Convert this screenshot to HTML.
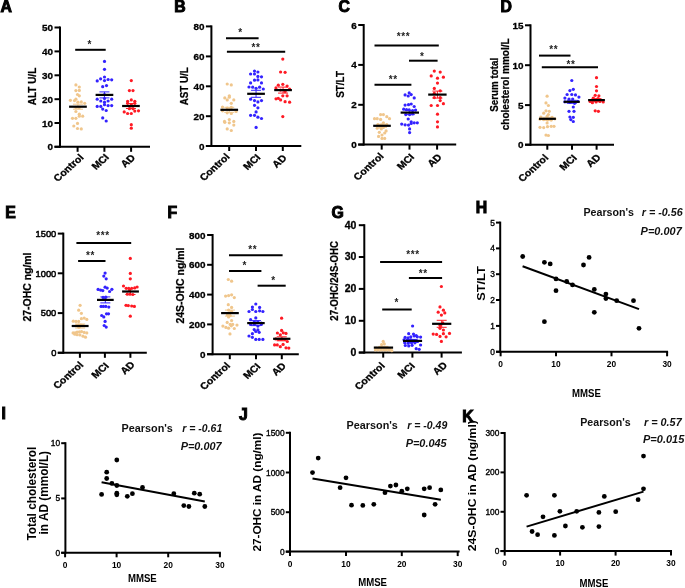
<!DOCTYPE html>
<html><head><meta charset="utf-8"><style>
html,body{margin:0;padding:0;background:#fff;}
svg{display:block;will-change:transform;}
text{font-family:"Liberation Sans", sans-serif;-webkit-font-smoothing:antialiased;}
</style></head><body>
<svg width="685" height="588" viewBox="0 0 685 588">
<rect width="685" height="588" fill="#fff"/>
<line x1="60.00" y1="26.50" x2="60.00" y2="147.80" stroke="#000" stroke-width="2" stroke-linecap="butt"/>
<line x1="54.50" y1="146.80" x2="150.00" y2="146.80" stroke="#000" stroke-width="2" stroke-linecap="butt"/>
<line x1="54.50" y1="27.50" x2="60.00" y2="27.50" stroke="#000" stroke-width="2" stroke-linecap="butt"/>
<text x="53.00" y="31.00" font-size="9.9" font-weight="bold" text-anchor="end" fill="#000" stroke="#000" stroke-width="0.3">50</text>
<line x1="54.50" y1="51.40" x2="60.00" y2="51.40" stroke="#000" stroke-width="2" stroke-linecap="butt"/>
<text x="53.00" y="54.90" font-size="9.9" font-weight="bold" text-anchor="end" fill="#000" stroke="#000" stroke-width="0.3">40</text>
<line x1="54.50" y1="75.30" x2="60.00" y2="75.30" stroke="#000" stroke-width="2" stroke-linecap="butt"/>
<text x="53.00" y="78.80" font-size="9.9" font-weight="bold" text-anchor="end" fill="#000" stroke="#000" stroke-width="0.3">30</text>
<line x1="54.50" y1="99.20" x2="60.00" y2="99.20" stroke="#000" stroke-width="2" stroke-linecap="butt"/>
<text x="53.00" y="102.70" font-size="9.9" font-weight="bold" text-anchor="end" fill="#000" stroke="#000" stroke-width="0.3">20</text>
<line x1="54.50" y1="123.00" x2="60.00" y2="123.00" stroke="#000" stroke-width="2" stroke-linecap="butt"/>
<text x="53.00" y="126.50" font-size="9.9" font-weight="bold" text-anchor="end" fill="#000" stroke="#000" stroke-width="0.3">10</text>
<line x1="54.50" y1="146.80" x2="60.00" y2="146.80" stroke="#000" stroke-width="2" stroke-linecap="butt"/>
<text x="53.00" y="150.30" font-size="9.9" font-weight="bold" text-anchor="end" fill="#000" stroke="#000" stroke-width="0.3">0</text>
<line x1="77.60" y1="146.80" x2="77.60" y2="151.80" stroke="#000" stroke-width="2" stroke-linecap="butt"/>
<line x1="104.40" y1="146.80" x2="104.40" y2="151.80" stroke="#000" stroke-width="2" stroke-linecap="butt"/>
<line x1="131.10" y1="146.80" x2="131.10" y2="151.80" stroke="#000" stroke-width="2" stroke-linecap="butt"/>
<text x="0" y="0" font-size="9.6" font-weight="bold" text-anchor="end" stroke="#000" stroke-width="0.3" transform="translate(84.30 158.10) scale(1.1 1) rotate(-45)">Control</text>
<text x="0" y="0" font-size="9.6" font-weight="bold" text-anchor="end" stroke="#000" stroke-width="0.3" transform="translate(109.60 157.90) scale(1.1 1) rotate(-45)">MCI</text>
<text x="0" y="0" font-size="9.6" font-weight="bold" text-anchor="end" stroke="#000" stroke-width="0.3" transform="translate(135.90 158.30) scale(1.1 1) rotate(-45)">AD</text>
<circle cx="75.90" cy="84.90" r="1.6" fill="#F0C68C"/>
<circle cx="79.30" cy="87.00" r="1.6" fill="#F0C68C"/>
<circle cx="75.90" cy="90.60" r="1.6" fill="#F0C68C"/>
<circle cx="79.30" cy="90.40" r="1.6" fill="#F0C68C"/>
<circle cx="77.50" cy="94.50" r="1.6" fill="#F0C68C"/>
<circle cx="79.30" cy="95.80" r="1.6" fill="#F0C68C"/>
<circle cx="70.40" cy="100.30" r="1.6" fill="#F0C68C"/>
<circle cx="74.50" cy="100.60" r="1.6" fill="#F0C68C"/>
<circle cx="75.90" cy="99.20" r="1.6" fill="#F0C68C"/>
<circle cx="77.90" cy="102.20" r="1.6" fill="#F0C68C"/>
<circle cx="81.30" cy="101.90" r="1.6" fill="#F0C68C"/>
<circle cx="84.70" cy="103.30" r="1.6" fill="#F0C68C"/>
<circle cx="75.90" cy="107.40" r="1.6" fill="#F0C68C"/>
<circle cx="79.30" cy="107.40" r="1.6" fill="#F0C68C"/>
<circle cx="75.90" cy="111.50" r="1.6" fill="#F0C68C"/>
<circle cx="79.30" cy="114.20" r="1.6" fill="#F0C68C"/>
<circle cx="79.30" cy="116.20" r="1.6" fill="#F0C68C"/>
<circle cx="82.70" cy="116.20" r="1.6" fill="#F0C68C"/>
<circle cx="72.50" cy="118.30" r="1.6" fill="#F0C68C"/>
<circle cx="75.90" cy="118.30" r="1.6" fill="#F0C68C"/>
<circle cx="77.50" cy="123.40" r="1.6" fill="#F0C68C"/>
<circle cx="73.80" cy="126.00" r="1.6" fill="#F0C68C"/>
<circle cx="77.50" cy="128.50" r="1.6" fill="#F0C68C"/>
<circle cx="81.30" cy="128.90" r="1.6" fill="#F0C68C"/>
<circle cx="104.50" cy="61.40" r="1.6" fill="#3322FF"/>
<circle cx="104.50" cy="69.30" r="1.6" fill="#3322FF"/>
<circle cx="104.50" cy="77.00" r="1.6" fill="#3322FF"/>
<circle cx="100.60" cy="78.80" r="1.6" fill="#3322FF"/>
<circle cx="97.20" cy="80.90" r="1.6" fill="#3322FF"/>
<circle cx="104.50" cy="80.60" r="1.6" fill="#3322FF"/>
<circle cx="108.10" cy="79.50" r="1.6" fill="#3322FF"/>
<circle cx="111.70" cy="79.80" r="1.6" fill="#3322FF"/>
<circle cx="102.70" cy="86.70" r="1.6" fill="#3322FF"/>
<circle cx="106.50" cy="85.60" r="1.6" fill="#3322FF"/>
<circle cx="104.50" cy="94.50" r="1.6" fill="#3322FF"/>
<circle cx="97.20" cy="99.20" r="1.6" fill="#3322FF"/>
<circle cx="100.80" cy="101.00" r="1.6" fill="#3322FF"/>
<circle cx="104.50" cy="98.50" r="1.6" fill="#3322FF"/>
<circle cx="108.10" cy="101.00" r="1.6" fill="#3322FF"/>
<circle cx="111.70" cy="99.20" r="1.6" fill="#3322FF"/>
<circle cx="104.50" cy="102.20" r="1.6" fill="#3322FF"/>
<circle cx="104.50" cy="104.70" r="1.6" fill="#3322FF"/>
<circle cx="97.20" cy="106.40" r="1.6" fill="#3322FF"/>
<circle cx="100.80" cy="106.40" r="1.6" fill="#3322FF"/>
<circle cx="108.10" cy="105.60" r="1.6" fill="#3322FF"/>
<circle cx="111.70" cy="105.60" r="1.6" fill="#3322FF"/>
<circle cx="102.70" cy="109.10" r="1.6" fill="#3322FF"/>
<circle cx="106.20" cy="110.50" r="1.6" fill="#3322FF"/>
<circle cx="102.70" cy="117.90" r="1.6" fill="#3322FF"/>
<circle cx="106.20" cy="121.00" r="1.6" fill="#3322FF"/>
<circle cx="131.30" cy="80.60" r="1.6" fill="#FF1A24"/>
<circle cx="129.40" cy="90.60" r="1.6" fill="#FF1A24"/>
<circle cx="133.00" cy="90.60" r="1.6" fill="#FF1A24"/>
<circle cx="131.30" cy="99.90" r="1.6" fill="#FF1A24"/>
<circle cx="127.60" cy="101.30" r="1.6" fill="#FF1A24"/>
<circle cx="134.80" cy="101.30" r="1.6" fill="#FF1A24"/>
<circle cx="127.60" cy="103.30" r="1.6" fill="#FF1A24"/>
<circle cx="134.80" cy="103.30" r="1.6" fill="#FF1A24"/>
<circle cx="131.30" cy="104.70" r="1.6" fill="#FF1A24"/>
<circle cx="129.40" cy="108.70" r="1.6" fill="#FF1A24"/>
<circle cx="133.00" cy="108.70" r="1.6" fill="#FF1A24"/>
<circle cx="124.20" cy="111.90" r="1.6" fill="#FF1A24"/>
<circle cx="127.60" cy="113.50" r="1.6" fill="#FF1A24"/>
<circle cx="131.30" cy="113.50" r="1.6" fill="#FF1A24"/>
<circle cx="134.80" cy="111.10" r="1.6" fill="#FF1A24"/>
<circle cx="138.50" cy="110.80" r="1.6" fill="#FF1A24"/>
<circle cx="131.30" cy="124.70" r="1.6" fill="#FF1A24"/>
<circle cx="131.30" cy="128.20" r="1.6" fill="#FF1A24"/>
<line x1="77.95" y1="104.20" x2="77.95" y2="109.20" stroke="#F0C68C" stroke-width="1" stroke-linecap="butt"/>
<line x1="72.95" y1="104.20" x2="82.95" y2="104.20" stroke="#F0C68C" stroke-width="1" stroke-linecap="butt"/>
<line x1="72.95" y1="109.20" x2="82.95" y2="109.20" stroke="#F0C68C" stroke-width="1" stroke-linecap="butt"/>
<line x1="69.10" y1="106.70" x2="86.80" y2="106.70" stroke="#000" stroke-width="2.2" stroke-linecap="butt"/>
<line x1="104.45" y1="91.90" x2="104.45" y2="97.90" stroke="#3322FF" stroke-width="1" stroke-linecap="butt"/>
<line x1="99.45" y1="91.90" x2="109.45" y2="91.90" stroke="#3322FF" stroke-width="1" stroke-linecap="butt"/>
<line x1="99.45" y1="97.90" x2="109.45" y2="97.90" stroke="#3322FF" stroke-width="1" stroke-linecap="butt"/>
<line x1="95.60" y1="94.90" x2="113.30" y2="94.90" stroke="#000" stroke-width="2.2" stroke-linecap="butt"/>
<line x1="130.95" y1="103.50" x2="130.95" y2="108.50" stroke="#FF1A24" stroke-width="1" stroke-linecap="butt"/>
<line x1="125.95" y1="103.50" x2="135.95" y2="103.50" stroke="#FF1A24" stroke-width="1" stroke-linecap="butt"/>
<line x1="125.95" y1="108.50" x2="135.95" y2="108.50" stroke="#FF1A24" stroke-width="1" stroke-linecap="butt"/>
<line x1="122.10" y1="106.00" x2="139.80" y2="106.00" stroke="#000" stroke-width="2.2" stroke-linecap="butt"/>
<line x1="75.20" y1="49.80" x2="105.70" y2="49.80" stroke="#000" stroke-width="2" stroke-linecap="butt"/>
<text x="89.80" y="47.50" font-size="10" font-weight="bold" text-anchor="middle" fill="#222" letter-spacing="0.6">*</text>
<text x="36.00" y="86.50" font-size="10" font-weight="bold" text-anchor="middle" fill="#000" textLength="37.5" lengthAdjust="spacingAndGlyphs" transform="rotate(-90 36.00 86.50)" stroke="#000" stroke-width="0.25">ALT U/L</text>
<line x1="211.40" y1="25.40" x2="211.40" y2="147.00" stroke="#000" stroke-width="2" stroke-linecap="butt"/>
<line x1="205.90" y1="146.00" x2="301.30" y2="146.00" stroke="#000" stroke-width="2" stroke-linecap="butt"/>
<line x1="205.90" y1="26.40" x2="211.40" y2="26.40" stroke="#000" stroke-width="2" stroke-linecap="butt"/>
<text x="204.40" y="29.90" font-size="9.9" font-weight="bold" text-anchor="end" fill="#000" stroke="#000" stroke-width="0.3">80</text>
<line x1="205.90" y1="56.40" x2="211.40" y2="56.40" stroke="#000" stroke-width="2" stroke-linecap="butt"/>
<text x="204.40" y="59.90" font-size="9.9" font-weight="bold" text-anchor="end" fill="#000" stroke="#000" stroke-width="0.3">60</text>
<line x1="205.90" y1="86.30" x2="211.40" y2="86.30" stroke="#000" stroke-width="2" stroke-linecap="butt"/>
<text x="204.40" y="89.80" font-size="9.9" font-weight="bold" text-anchor="end" fill="#000" stroke="#000" stroke-width="0.3">40</text>
<line x1="205.90" y1="116.20" x2="211.40" y2="116.20" stroke="#000" stroke-width="2" stroke-linecap="butt"/>
<text x="204.40" y="119.70" font-size="9.9" font-weight="bold" text-anchor="end" fill="#000" stroke="#000" stroke-width="0.3">20</text>
<line x1="205.90" y1="146.00" x2="211.40" y2="146.00" stroke="#000" stroke-width="2" stroke-linecap="butt"/>
<text x="204.40" y="149.50" font-size="9.9" font-weight="bold" text-anchor="end" fill="#000" stroke="#000" stroke-width="0.3">0</text>
<line x1="229.20" y1="146.00" x2="229.20" y2="151.00" stroke="#000" stroke-width="2" stroke-linecap="butt"/>
<line x1="256.00" y1="146.00" x2="256.00" y2="151.00" stroke="#000" stroke-width="2" stroke-linecap="butt"/>
<line x1="282.80" y1="146.00" x2="282.80" y2="151.00" stroke="#000" stroke-width="2" stroke-linecap="butt"/>
<text x="0" y="0" font-size="9.6" font-weight="bold" text-anchor="end" stroke="#000" stroke-width="0.3" transform="translate(230.40 157.40) scale(1.1 1) rotate(-45)">Control</text>
<text x="0" y="0" font-size="9.6" font-weight="bold" text-anchor="end" stroke="#000" stroke-width="0.3" transform="translate(261.20 158.00) scale(1.1 1) rotate(-45)">MCI</text>
<text x="0" y="0" font-size="9.6" font-weight="bold" text-anchor="end" stroke="#000" stroke-width="0.3" transform="translate(287.30 158.70) scale(1.1 1) rotate(-45)">AD</text>
<circle cx="227.20" cy="84.00" r="1.6" fill="#F0C68C"/>
<circle cx="231.30" cy="84.90" r="1.6" fill="#F0C68C"/>
<circle cx="229.30" cy="95.80" r="1.6" fill="#F0C68C"/>
<circle cx="224.80" cy="97.90" r="1.6" fill="#F0C68C"/>
<circle cx="229.30" cy="97.20" r="1.6" fill="#F0C68C"/>
<circle cx="227.20" cy="99.90" r="1.6" fill="#F0C68C"/>
<circle cx="233.80" cy="99.90" r="1.6" fill="#F0C68C"/>
<circle cx="231.30" cy="103.30" r="1.6" fill="#F0C68C"/>
<circle cx="222.50" cy="107.10" r="1.6" fill="#F0C68C"/>
<circle cx="227.20" cy="108.10" r="1.6" fill="#F0C68C"/>
<circle cx="231.30" cy="107.40" r="1.6" fill="#F0C68C"/>
<circle cx="222.50" cy="110.80" r="1.6" fill="#F0C68C"/>
<circle cx="236.10" cy="111.50" r="1.6" fill="#F0C68C"/>
<circle cx="227.20" cy="112.80" r="1.6" fill="#F0C68C"/>
<circle cx="231.30" cy="113.50" r="1.6" fill="#F0C68C"/>
<circle cx="229.30" cy="119.60" r="1.6" fill="#F0C68C"/>
<circle cx="224.50" cy="121.40" r="1.6" fill="#F0C68C"/>
<circle cx="229.30" cy="122.80" r="1.6" fill="#F0C68C"/>
<circle cx="233.80" cy="121.40" r="1.6" fill="#F0C68C"/>
<circle cx="224.80" cy="122.30" r="1.6" fill="#F0C68C"/>
<circle cx="233.80" cy="125.10" r="1.6" fill="#F0C68C"/>
<circle cx="227.20" cy="128.90" r="1.6" fill="#F0C68C"/>
<circle cx="231.30" cy="130.50" r="1.6" fill="#F0C68C"/>
<circle cx="254.50" cy="71.10" r="1.6" fill="#3322FF"/>
<circle cx="257.90" cy="72.00" r="1.6" fill="#3322FF"/>
<circle cx="250.60" cy="74.00" r="1.6" fill="#3322FF"/>
<circle cx="254.50" cy="74.00" r="1.6" fill="#3322FF"/>
<circle cx="257.90" cy="76.40" r="1.6" fill="#3322FF"/>
<circle cx="261.50" cy="76.80" r="1.6" fill="#3322FF"/>
<circle cx="254.50" cy="80.20" r="1.6" fill="#3322FF"/>
<circle cx="257.90" cy="79.90" r="1.6" fill="#3322FF"/>
<circle cx="250.60" cy="82.90" r="1.6" fill="#3322FF"/>
<circle cx="261.50" cy="82.90" r="1.6" fill="#3322FF"/>
<circle cx="249.00" cy="87.00" r="1.6" fill="#3322FF"/>
<circle cx="252.70" cy="87.20" r="1.6" fill="#3322FF"/>
<circle cx="256.10" cy="88.30" r="1.6" fill="#3322FF"/>
<circle cx="259.60" cy="87.20" r="1.6" fill="#3322FF"/>
<circle cx="263.30" cy="89.00" r="1.6" fill="#3322FF"/>
<circle cx="250.60" cy="99.20" r="1.6" fill="#3322FF"/>
<circle cx="254.50" cy="100.60" r="1.6" fill="#3322FF"/>
<circle cx="257.90" cy="101.90" r="1.6" fill="#3322FF"/>
<circle cx="261.50" cy="100.60" r="1.6" fill="#3322FF"/>
<circle cx="254.50" cy="105.30" r="1.6" fill="#3322FF"/>
<circle cx="257.90" cy="107.80" r="1.6" fill="#3322FF"/>
<circle cx="256.10" cy="111.90" r="1.6" fill="#3322FF"/>
<circle cx="250.60" cy="115.30" r="1.6" fill="#3322FF"/>
<circle cx="254.50" cy="115.30" r="1.6" fill="#3322FF"/>
<circle cx="257.90" cy="117.20" r="1.6" fill="#3322FF"/>
<circle cx="261.50" cy="118.50" r="1.6" fill="#3322FF"/>
<circle cx="256.10" cy="127.40" r="1.6" fill="#3322FF"/>
<circle cx="282.80" cy="59.10" r="1.6" fill="#FF1A24"/>
<circle cx="280.60" cy="72.00" r="1.6" fill="#FF1A24"/>
<circle cx="285.10" cy="72.30" r="1.6" fill="#FF1A24"/>
<circle cx="278.30" cy="85.20" r="1.6" fill="#FF1A24"/>
<circle cx="282.80" cy="84.30" r="1.6" fill="#FF1A24"/>
<circle cx="287.10" cy="86.00" r="1.6" fill="#FF1A24"/>
<circle cx="276.00" cy="87.90" r="1.6" fill="#FF1A24"/>
<circle cx="289.60" cy="89.00" r="1.6" fill="#FF1A24"/>
<circle cx="280.60" cy="90.10" r="1.6" fill="#FF1A24"/>
<circle cx="285.10" cy="91.50" r="1.6" fill="#FF1A24"/>
<circle cx="282.80" cy="95.80" r="1.6" fill="#FF1A24"/>
<circle cx="287.10" cy="95.80" r="1.6" fill="#FF1A24"/>
<circle cx="276.00" cy="98.80" r="1.6" fill="#FF1A24"/>
<circle cx="278.30" cy="98.30" r="1.6" fill="#FF1A24"/>
<circle cx="280.60" cy="99.90" r="1.6" fill="#FF1A24"/>
<circle cx="285.10" cy="101.70" r="1.6" fill="#FF1A24"/>
<circle cx="289.60" cy="102.20" r="1.6" fill="#FF1A24"/>
<circle cx="282.80" cy="116.60" r="1.6" fill="#FF1A24"/>
<line x1="229.25" y1="107.30" x2="229.25" y2="112.30" stroke="#F0C68C" stroke-width="1" stroke-linecap="butt"/>
<line x1="224.25" y1="107.30" x2="234.25" y2="107.30" stroke="#F0C68C" stroke-width="1" stroke-linecap="butt"/>
<line x1="224.25" y1="112.30" x2="234.25" y2="112.30" stroke="#F0C68C" stroke-width="1" stroke-linecap="butt"/>
<line x1="220.40" y1="109.80" x2="238.10" y2="109.80" stroke="#000" stroke-width="2.2" stroke-linecap="butt"/>
<line x1="256.05" y1="90.30" x2="256.05" y2="97.30" stroke="#3322FF" stroke-width="1" stroke-linecap="butt"/>
<line x1="251.05" y1="90.30" x2="261.05" y2="90.30" stroke="#3322FF" stroke-width="1" stroke-linecap="butt"/>
<line x1="251.05" y1="97.30" x2="261.05" y2="97.30" stroke="#3322FF" stroke-width="1" stroke-linecap="butt"/>
<line x1="247.20" y1="93.80" x2="264.90" y2="93.80" stroke="#000" stroke-width="2.2" stroke-linecap="butt"/>
<line x1="283.05" y1="87.10" x2="283.05" y2="93.10" stroke="#FF1A24" stroke-width="1" stroke-linecap="butt"/>
<line x1="278.05" y1="87.10" x2="288.05" y2="87.10" stroke="#FF1A24" stroke-width="1" stroke-linecap="butt"/>
<line x1="278.05" y1="93.10" x2="288.05" y2="93.10" stroke="#FF1A24" stroke-width="1" stroke-linecap="butt"/>
<line x1="274.20" y1="90.10" x2="291.90" y2="90.10" stroke="#000" stroke-width="2.2" stroke-linecap="butt"/>
<line x1="226.00" y1="38.30" x2="258.60" y2="38.30" stroke="#000" stroke-width="2" stroke-linecap="butt"/>
<text x="240.50" y="35.50" font-size="10" font-weight="bold" text-anchor="middle" fill="#222" letter-spacing="0.6">*</text>
<line x1="226.90" y1="51.70" x2="285.20" y2="51.70" stroke="#000" stroke-width="2" stroke-linecap="butt"/>
<text x="256.00" y="50.70" font-size="10" font-weight="bold" text-anchor="middle" fill="#222" letter-spacing="0.6">**</text>
<text x="188.00" y="86.20" font-size="10" font-weight="bold" text-anchor="middle" fill="#000" textLength="38" lengthAdjust="spacingAndGlyphs" transform="rotate(-90 188.00 86.20)" stroke="#000" stroke-width="0.25">AST U/L</text>
<line x1="363.70" y1="24.00" x2="363.70" y2="145.60" stroke="#000" stroke-width="2" stroke-linecap="butt"/>
<line x1="358.20" y1="144.60" x2="456.20" y2="144.60" stroke="#000" stroke-width="2" stroke-linecap="butt"/>
<line x1="358.20" y1="25.00" x2="363.70" y2="25.00" stroke="#000" stroke-width="2" stroke-linecap="butt"/>
<text x="356.70" y="28.50" font-size="9.9" font-weight="bold" text-anchor="end" fill="#000" stroke="#000" stroke-width="0.3">6</text>
<line x1="358.20" y1="64.90" x2="363.70" y2="64.90" stroke="#000" stroke-width="2" stroke-linecap="butt"/>
<text x="356.70" y="68.40" font-size="9.9" font-weight="bold" text-anchor="end" fill="#000" stroke="#000" stroke-width="0.3">4</text>
<line x1="358.20" y1="104.80" x2="363.70" y2="104.80" stroke="#000" stroke-width="2" stroke-linecap="butt"/>
<text x="356.70" y="108.30" font-size="9.9" font-weight="bold" text-anchor="end" fill="#000" stroke="#000" stroke-width="0.3">2</text>
<line x1="358.20" y1="144.60" x2="363.70" y2="144.60" stroke="#000" stroke-width="2" stroke-linecap="butt"/>
<text x="356.70" y="148.10" font-size="9.9" font-weight="bold" text-anchor="end" fill="#000" stroke="#000" stroke-width="0.3">0</text>
<line x1="381.70" y1="144.60" x2="381.70" y2="149.60" stroke="#000" stroke-width="2" stroke-linecap="butt"/>
<line x1="409.50" y1="144.60" x2="409.50" y2="149.60" stroke="#000" stroke-width="2" stroke-linecap="butt"/>
<line x1="437.10" y1="144.60" x2="437.10" y2="149.60" stroke="#000" stroke-width="2" stroke-linecap="butt"/>
<text x="0" y="0" font-size="9.6" font-weight="bold" text-anchor="end" stroke="#000" stroke-width="0.3" transform="translate(384.30 156.80) scale(1.1 1) rotate(-45)">Control</text>
<text x="0" y="0" font-size="9.6" font-weight="bold" text-anchor="end" stroke="#000" stroke-width="0.3" transform="translate(414.90 157.70) scale(1.1 1) rotate(-45)">MCI</text>
<text x="0" y="0" font-size="9.6" font-weight="bold" text-anchor="end" stroke="#000" stroke-width="0.3" transform="translate(442.50 157.80) scale(1.1 1) rotate(-45)">AD</text>
<circle cx="380.60" cy="114.60" r="1.6" fill="#F0C68C"/>
<circle cx="383.40" cy="114.60" r="1.6" fill="#F0C68C"/>
<circle cx="386.80" cy="116.70" r="1.6" fill="#F0C68C"/>
<circle cx="374.50" cy="118.70" r="1.6" fill="#F0C68C"/>
<circle cx="377.20" cy="118.70" r="1.6" fill="#F0C68C"/>
<circle cx="380.60" cy="119.40" r="1.6" fill="#F0C68C"/>
<circle cx="389.50" cy="118.70" r="1.6" fill="#F0C68C"/>
<circle cx="383.40" cy="122.80" r="1.6" fill="#F0C68C"/>
<circle cx="377.90" cy="124.50" r="1.6" fill="#F0C68C"/>
<circle cx="381.30" cy="124.80" r="1.6" fill="#F0C68C"/>
<circle cx="386.80" cy="124.50" r="1.6" fill="#F0C68C"/>
<circle cx="377.20" cy="128.20" r="1.6" fill="#F0C68C"/>
<circle cx="380.60" cy="127.50" r="1.6" fill="#F0C68C"/>
<circle cx="383.40" cy="127.50" r="1.6" fill="#F0C68C"/>
<circle cx="381.30" cy="128.90" r="1.6" fill="#F0C68C"/>
<circle cx="386.10" cy="130.90" r="1.6" fill="#F0C68C"/>
<circle cx="379.30" cy="132.30" r="1.6" fill="#F0C68C"/>
<circle cx="384.70" cy="133.00" r="1.6" fill="#F0C68C"/>
<circle cx="382.00" cy="135.00" r="1.6" fill="#F0C68C"/>
<circle cx="378.60" cy="136.40" r="1.6" fill="#F0C68C"/>
<circle cx="382.00" cy="138.40" r="1.6" fill="#F0C68C"/>
<circle cx="384.70" cy="138.40" r="1.6" fill="#F0C68C"/>
<circle cx="409.20" cy="92.90" r="1.6" fill="#3322FF"/>
<circle cx="405.10" cy="94.90" r="1.6" fill="#3322FF"/>
<circle cx="408.20" cy="96.00" r="1.6" fill="#3322FF"/>
<circle cx="411.20" cy="94.60" r="1.6" fill="#3322FF"/>
<circle cx="414.20" cy="97.90" r="1.6" fill="#3322FF"/>
<circle cx="405.10" cy="105.10" r="1.6" fill="#3322FF"/>
<circle cx="408.50" cy="104.70" r="1.6" fill="#3322FF"/>
<circle cx="411.20" cy="104.00" r="1.6" fill="#3322FF"/>
<circle cx="414.20" cy="106.50" r="1.6" fill="#3322FF"/>
<circle cx="403.70" cy="109.20" r="1.6" fill="#3322FF"/>
<circle cx="406.50" cy="109.60" r="1.6" fill="#3322FF"/>
<circle cx="409.20" cy="109.90" r="1.6" fill="#3322FF"/>
<circle cx="412.60" cy="110.50" r="1.6" fill="#3322FF"/>
<circle cx="415.60" cy="110.10" r="1.6" fill="#3322FF"/>
<circle cx="405.80" cy="114.60" r="1.6" fill="#3322FF"/>
<circle cx="409.60" cy="114.60" r="1.6" fill="#3322FF"/>
<circle cx="412.60" cy="113.90" r="1.6" fill="#3322FF"/>
<circle cx="408.20" cy="119.00" r="1.6" fill="#3322FF"/>
<circle cx="411.20" cy="121.80" r="1.6" fill="#3322FF"/>
<circle cx="414.20" cy="122.80" r="1.6" fill="#3322FF"/>
<circle cx="417.30" cy="122.80" r="1.6" fill="#3322FF"/>
<circle cx="401.70" cy="124.10" r="1.6" fill="#3322FF"/>
<circle cx="405.10" cy="124.80" r="1.6" fill="#3322FF"/>
<circle cx="408.50" cy="125.10" r="1.6" fill="#3322FF"/>
<circle cx="411.20" cy="123.50" r="1.6" fill="#3322FF"/>
<circle cx="409.60" cy="128.90" r="1.6" fill="#3322FF"/>
<circle cx="409.60" cy="132.60" r="1.6" fill="#3322FF"/>
<circle cx="434.30" cy="71.10" r="1.6" fill="#FF1A24"/>
<circle cx="440.20" cy="72.10" r="1.6" fill="#FF1A24"/>
<circle cx="431.20" cy="75.90" r="1.6" fill="#FF1A24"/>
<circle cx="437.50" cy="78.20" r="1.6" fill="#FF1A24"/>
<circle cx="443.40" cy="77.20" r="1.6" fill="#FF1A24"/>
<circle cx="437.50" cy="83.10" r="1.6" fill="#FF1A24"/>
<circle cx="434.30" cy="88.40" r="1.6" fill="#FF1A24"/>
<circle cx="440.20" cy="90.80" r="1.6" fill="#FF1A24"/>
<circle cx="434.30" cy="93.30" r="1.6" fill="#FF1A24"/>
<circle cx="434.30" cy="97.60" r="1.6" fill="#FF1A24"/>
<circle cx="440.20" cy="97.60" r="1.6" fill="#FF1A24"/>
<circle cx="440.20" cy="100.60" r="1.6" fill="#FF1A24"/>
<circle cx="443.40" cy="103.70" r="1.6" fill="#FF1A24"/>
<circle cx="431.20" cy="105.50" r="1.6" fill="#FF1A24"/>
<circle cx="437.50" cy="105.50" r="1.6" fill="#FF1A24"/>
<circle cx="437.50" cy="114.20" r="1.6" fill="#FF1A24"/>
<circle cx="437.50" cy="121.80" r="1.6" fill="#FF1A24"/>
<circle cx="437.50" cy="126.90" r="1.6" fill="#FF1A24"/>
<line x1="382.00" y1="124.30" x2="382.00" y2="127.30" stroke="#F0C68C" stroke-width="1" stroke-linecap="butt"/>
<line x1="377.00" y1="124.30" x2="387.00" y2="124.30" stroke="#F0C68C" stroke-width="1" stroke-linecap="butt"/>
<line x1="377.00" y1="127.30" x2="387.00" y2="127.30" stroke="#F0C68C" stroke-width="1" stroke-linecap="butt"/>
<line x1="373.20" y1="125.80" x2="390.80" y2="125.80" stroke="#000" stroke-width="2.2" stroke-linecap="butt"/>
<line x1="409.80" y1="110.60" x2="409.80" y2="114.60" stroke="#3322FF" stroke-width="1" stroke-linecap="butt"/>
<line x1="404.80" y1="110.60" x2="414.80" y2="110.60" stroke="#3322FF" stroke-width="1" stroke-linecap="butt"/>
<line x1="404.80" y1="114.60" x2="414.80" y2="114.60" stroke="#3322FF" stroke-width="1" stroke-linecap="butt"/>
<line x1="400.60" y1="112.60" x2="419.00" y2="112.60" stroke="#000" stroke-width="2.2" stroke-linecap="butt"/>
<line x1="437.40" y1="91.10" x2="437.40" y2="98.10" stroke="#FF1A24" stroke-width="1" stroke-linecap="butt"/>
<line x1="432.40" y1="91.10" x2="442.40" y2="91.10" stroke="#FF1A24" stroke-width="1" stroke-linecap="butt"/>
<line x1="432.40" y1="98.10" x2="442.40" y2="98.10" stroke="#FF1A24" stroke-width="1" stroke-linecap="butt"/>
<line x1="428.20" y1="94.60" x2="446.60" y2="94.60" stroke="#000" stroke-width="2.2" stroke-linecap="butt"/>
<line x1="374.50" y1="45.50" x2="438.80" y2="45.50" stroke="#000" stroke-width="2" stroke-linecap="butt"/>
<text x="403.40" y="39.50" font-size="10" font-weight="bold" text-anchor="middle" fill="#222" letter-spacing="0.6">***</text>
<line x1="409.00" y1="60.70" x2="437.60" y2="60.70" stroke="#000" stroke-width="2" stroke-linecap="butt"/>
<text x="422.30" y="59.80" font-size="10" font-weight="bold" text-anchor="middle" fill="#222" letter-spacing="0.6">*</text>
<line x1="374.50" y1="84.80" x2="411.40" y2="84.80" stroke="#000" stroke-width="2" stroke-linecap="butt"/>
<text x="393.20" y="82.90" font-size="10" font-weight="bold" text-anchor="middle" fill="#222" letter-spacing="0.6">**</text>
<text x="344.00" y="84.40" font-size="11.3" font-weight="bold" text-anchor="middle" fill="#000" textLength="26.8" lengthAdjust="spacingAndGlyphs" transform="rotate(-90 344.00 84.40)" stroke="#000" stroke-width="0.25">ST/LT</text>
<line x1="530.50" y1="24.30" x2="530.50" y2="145.70" stroke="#000" stroke-width="2" stroke-linecap="butt"/>
<line x1="525.00" y1="144.70" x2="614.00" y2="144.70" stroke="#000" stroke-width="2" stroke-linecap="butt"/>
<line x1="525.00" y1="25.30" x2="530.50" y2="25.30" stroke="#000" stroke-width="2" stroke-linecap="butt"/>
<text x="523.50" y="28.80" font-size="9.9" font-weight="bold" text-anchor="end" fill="#000" stroke="#000" stroke-width="0.3">15</text>
<line x1="525.00" y1="65.20" x2="530.50" y2="65.20" stroke="#000" stroke-width="2" stroke-linecap="butt"/>
<text x="523.50" y="68.70" font-size="9.9" font-weight="bold" text-anchor="end" fill="#000" stroke="#000" stroke-width="0.3">10</text>
<line x1="525.00" y1="105.10" x2="530.50" y2="105.10" stroke="#000" stroke-width="2" stroke-linecap="butt"/>
<text x="523.50" y="108.60" font-size="9.9" font-weight="bold" text-anchor="end" fill="#000" stroke="#000" stroke-width="0.3">5</text>
<line x1="525.00" y1="144.70" x2="530.50" y2="144.70" stroke="#000" stroke-width="2" stroke-linecap="butt"/>
<text x="523.50" y="148.20" font-size="9.9" font-weight="bold" text-anchor="end" fill="#000" stroke="#000" stroke-width="0.3">0</text>
<line x1="547.30" y1="144.70" x2="547.30" y2="149.70" stroke="#000" stroke-width="2" stroke-linecap="butt"/>
<line x1="572.00" y1="144.70" x2="572.00" y2="149.70" stroke="#000" stroke-width="2" stroke-linecap="butt"/>
<line x1="596.60" y1="144.70" x2="596.60" y2="149.70" stroke="#000" stroke-width="2" stroke-linecap="butt"/>
<text x="0" y="0" font-size="9.6" font-weight="bold" text-anchor="end" stroke="#000" stroke-width="0.3" transform="translate(549.00 158.40) scale(1.1 1) rotate(-45)">Control</text>
<text x="0" y="0" font-size="9.6" font-weight="bold" text-anchor="end" stroke="#000" stroke-width="0.3" transform="translate(577.50 158.50) scale(1.1 1) rotate(-45)">MCI</text>
<text x="0" y="0" font-size="9.6" font-weight="bold" text-anchor="end" stroke="#000" stroke-width="0.3" transform="translate(601.30 158.00) scale(1.1 1) rotate(-45)">AD</text>
<circle cx="547.10" cy="96.20" r="1.6" fill="#F0C68C"/>
<circle cx="546.00" cy="102.90" r="1.6" fill="#F0C68C"/>
<circle cx="548.40" cy="105.50" r="1.6" fill="#F0C68C"/>
<circle cx="546.00" cy="110.80" r="1.6" fill="#F0C68C"/>
<circle cx="549.30" cy="111.30" r="1.6" fill="#F0C68C"/>
<circle cx="543.70" cy="113.20" r="1.6" fill="#F0C68C"/>
<circle cx="548.40" cy="114.50" r="1.6" fill="#F0C68C"/>
<circle cx="540.90" cy="117.00" r="1.6" fill="#F0C68C"/>
<circle cx="547.10" cy="116.40" r="1.6" fill="#F0C68C"/>
<circle cx="552.10" cy="117.30" r="1.6" fill="#F0C68C"/>
<circle cx="540.00" cy="119.20" r="1.6" fill="#F0C68C"/>
<circle cx="543.70" cy="119.60" r="1.6" fill="#F0C68C"/>
<circle cx="547.50" cy="120.10" r="1.6" fill="#F0C68C"/>
<circle cx="551.20" cy="120.10" r="1.6" fill="#F0C68C"/>
<circle cx="554.90" cy="118.80" r="1.6" fill="#F0C68C"/>
<circle cx="547.10" cy="123.00" r="1.6" fill="#F0C68C"/>
<circle cx="540.00" cy="127.30" r="1.6" fill="#F0C68C"/>
<circle cx="543.70" cy="127.60" r="1.6" fill="#F0C68C"/>
<circle cx="547.50" cy="126.70" r="1.6" fill="#F0C68C"/>
<circle cx="551.20" cy="126.30" r="1.6" fill="#F0C68C"/>
<circle cx="554.00" cy="126.30" r="1.6" fill="#F0C68C"/>
<circle cx="546.00" cy="135.10" r="1.6" fill="#F0C68C"/>
<circle cx="548.40" cy="135.50" r="1.6" fill="#F0C68C"/>
<circle cx="571.80" cy="80.50" r="1.6" fill="#3322FF"/>
<circle cx="573.30" cy="89.30" r="1.6" fill="#3322FF"/>
<circle cx="569.90" cy="90.60" r="1.6" fill="#3322FF"/>
<circle cx="567.10" cy="94.50" r="1.6" fill="#3322FF"/>
<circle cx="571.80" cy="94.50" r="1.6" fill="#3322FF"/>
<circle cx="575.50" cy="94.90" r="1.6" fill="#3322FF"/>
<circle cx="564.90" cy="98.10" r="1.6" fill="#3322FF"/>
<circle cx="569.00" cy="99.00" r="1.6" fill="#3322FF"/>
<circle cx="572.70" cy="99.00" r="1.6" fill="#3322FF"/>
<circle cx="578.90" cy="97.10" r="1.6" fill="#3322FF"/>
<circle cx="564.90" cy="101.80" r="1.6" fill="#3322FF"/>
<circle cx="569.90" cy="102.40" r="1.6" fill="#3322FF"/>
<circle cx="574.60" cy="103.30" r="1.6" fill="#3322FF"/>
<circle cx="577.80" cy="101.40" r="1.6" fill="#3322FF"/>
<circle cx="573.30" cy="107.00" r="1.6" fill="#3322FF"/>
<circle cx="569.00" cy="111.30" r="1.6" fill="#3322FF"/>
<circle cx="574.00" cy="111.30" r="1.6" fill="#3322FF"/>
<circle cx="569.90" cy="117.00" r="1.6" fill="#3322FF"/>
<circle cx="573.30" cy="117.30" r="1.6" fill="#3322FF"/>
<circle cx="570.80" cy="119.60" r="1.6" fill="#3322FF"/>
<circle cx="573.30" cy="121.50" r="1.6" fill="#3322FF"/>
<circle cx="596.50" cy="77.70" r="1.6" fill="#FF1A24"/>
<circle cx="596.50" cy="86.50" r="1.6" fill="#FF1A24"/>
<circle cx="596.50" cy="90.80" r="1.6" fill="#FF1A24"/>
<circle cx="595.20" cy="95.30" r="1.6" fill="#FF1A24"/>
<circle cx="598.90" cy="95.80" r="1.6" fill="#FF1A24"/>
<circle cx="593.30" cy="98.10" r="1.6" fill="#FF1A24"/>
<circle cx="598.00" cy="98.60" r="1.6" fill="#FF1A24"/>
<circle cx="590.10" cy="101.40" r="1.6" fill="#FF1A24"/>
<circle cx="592.40" cy="102.70" r="1.6" fill="#FF1A24"/>
<circle cx="596.10" cy="102.00" r="1.6" fill="#FF1A24"/>
<circle cx="599.90" cy="101.40" r="1.6" fill="#FF1A24"/>
<circle cx="603.20" cy="102.00" r="1.6" fill="#FF1A24"/>
<circle cx="595.20" cy="110.80" r="1.6" fill="#FF1A24"/>
<circle cx="598.40" cy="111.30" r="1.6" fill="#FF1A24"/>
<line x1="547.45" y1="117.30" x2="547.45" y2="120.30" stroke="#F0C68C" stroke-width="1" stroke-linecap="butt"/>
<line x1="542.45" y1="117.30" x2="552.45" y2="117.30" stroke="#F0C68C" stroke-width="1" stroke-linecap="butt"/>
<line x1="542.45" y1="120.30" x2="552.45" y2="120.30" stroke="#F0C68C" stroke-width="1" stroke-linecap="butt"/>
<line x1="539.00" y1="118.80" x2="555.90" y2="118.80" stroke="#000" stroke-width="2.2" stroke-linecap="butt"/>
<line x1="571.75" y1="100.30" x2="571.75" y2="103.30" stroke="#3322FF" stroke-width="1" stroke-linecap="butt"/>
<line x1="566.75" y1="100.30" x2="576.75" y2="100.30" stroke="#3322FF" stroke-width="1" stroke-linecap="butt"/>
<line x1="566.75" y1="103.30" x2="576.75" y2="103.30" stroke="#3322FF" stroke-width="1" stroke-linecap="butt"/>
<line x1="563.70" y1="101.80" x2="579.80" y2="101.80" stroke="#000" stroke-width="2.2" stroke-linecap="butt"/>
<line x1="596.50" y1="98.60" x2="596.50" y2="101.60" stroke="#FF1A24" stroke-width="1" stroke-linecap="butt"/>
<line x1="591.50" y1="98.60" x2="601.50" y2="98.60" stroke="#FF1A24" stroke-width="1" stroke-linecap="butt"/>
<line x1="591.50" y1="101.60" x2="601.50" y2="101.60" stroke="#FF1A24" stroke-width="1" stroke-linecap="butt"/>
<line x1="588.10" y1="100.10" x2="604.90" y2="100.10" stroke="#000" stroke-width="2.2" stroke-linecap="butt"/>
<line x1="539.00" y1="55.60" x2="570.50" y2="55.60" stroke="#000" stroke-width="2" stroke-linecap="butt"/>
<text x="553.70" y="52.70" font-size="10" font-weight="bold" text-anchor="middle" fill="#222" letter-spacing="0.6">**</text>
<line x1="541.80" y1="67.20" x2="598.00" y2="67.20" stroke="#000" stroke-width="2" stroke-linecap="butt"/>
<text x="571.10" y="67.60" font-size="10" font-weight="bold" text-anchor="middle" fill="#222" letter-spacing="0.6">**</text>
<text x="497.80" y="84.80" font-size="10" font-weight="bold" text-anchor="middle" fill="#000" textLength="54" lengthAdjust="spacingAndGlyphs" transform="rotate(-90 497.80 84.80)" stroke="#000" stroke-width="0.25">Serum total</text>
<text x="509.00" y="84.30" font-size="10" font-weight="bold" text-anchor="middle" fill="#000" textLength="92" lengthAdjust="spacingAndGlyphs" transform="rotate(-90 509.00 84.30)" stroke="#000" stroke-width="0.25">cholesterol mmol/L</text>
<line x1="63.30" y1="232.60" x2="63.30" y2="353.80" stroke="#000" stroke-width="2" stroke-linecap="butt"/>
<line x1="57.80" y1="352.80" x2="146.80" y2="352.80" stroke="#000" stroke-width="2" stroke-linecap="butt"/>
<line x1="57.80" y1="233.60" x2="63.30" y2="233.60" stroke="#000" stroke-width="2" stroke-linecap="butt"/>
<text x="56.30" y="236.90" font-size="9.3" font-weight="normal" text-anchor="end" fill="#000" stroke="#000" stroke-width="0.5">1500</text>
<line x1="57.80" y1="273.30" x2="63.30" y2="273.30" stroke="#000" stroke-width="2" stroke-linecap="butt"/>
<text x="56.30" y="276.60" font-size="9.3" font-weight="normal" text-anchor="end" fill="#000" stroke="#000" stroke-width="0.5">1000</text>
<line x1="57.80" y1="313.10" x2="63.30" y2="313.10" stroke="#000" stroke-width="2" stroke-linecap="butt"/>
<text x="56.30" y="316.40" font-size="9.3" font-weight="normal" text-anchor="end" fill="#000" stroke="#000" stroke-width="0.5">500</text>
<line x1="57.80" y1="352.80" x2="63.30" y2="352.80" stroke="#000" stroke-width="2" stroke-linecap="butt"/>
<text x="56.30" y="356.10" font-size="9.3" font-weight="normal" text-anchor="end" fill="#000" stroke="#000" stroke-width="0.5">0</text>
<line x1="79.90" y1="352.80" x2="79.90" y2="357.80" stroke="#000" stroke-width="2" stroke-linecap="butt"/>
<line x1="104.90" y1="352.80" x2="104.90" y2="357.80" stroke="#000" stroke-width="2" stroke-linecap="butt"/>
<line x1="130.40" y1="352.80" x2="130.40" y2="357.80" stroke="#000" stroke-width="2" stroke-linecap="butt"/>
<text x="0" y="0" font-size="9.6" font-weight="bold" text-anchor="end" stroke="#000" stroke-width="0.3" transform="translate(84.00 365.50) scale(1.1 1) rotate(-45)">Control</text>
<text x="0" y="0" font-size="9.6" font-weight="bold" text-anchor="end" stroke="#000" stroke-width="0.3" transform="translate(109.50 366.50) scale(1.1 1) rotate(-45)">MCI</text>
<text x="0" y="0" font-size="9.6" font-weight="bold" text-anchor="end" stroke="#000" stroke-width="0.3" transform="translate(135.50 365.30) scale(1.1 1) rotate(-45)">AD</text>
<circle cx="80.10" cy="305.30" r="1.6" fill="#F0C68C"/>
<circle cx="78.70" cy="310.20" r="1.6" fill="#F0C68C"/>
<circle cx="81.40" cy="313.30" r="1.6" fill="#F0C68C"/>
<circle cx="81.40" cy="318.70" r="1.6" fill="#F0C68C"/>
<circle cx="84.20" cy="318.10" r="1.6" fill="#F0C68C"/>
<circle cx="86.80" cy="319.40" r="1.6" fill="#F0C68C"/>
<circle cx="73.30" cy="321.20" r="1.6" fill="#F0C68C"/>
<circle cx="76.00" cy="321.40" r="1.6" fill="#F0C68C"/>
<circle cx="78.70" cy="321.40" r="1.6" fill="#F0C68C"/>
<circle cx="76.60" cy="325.50" r="1.6" fill="#F0C68C"/>
<circle cx="78.70" cy="325.00" r="1.6" fill="#F0C68C"/>
<circle cx="80.90" cy="325.00" r="1.6" fill="#F0C68C"/>
<circle cx="83.00" cy="325.50" r="1.6" fill="#F0C68C"/>
<circle cx="78.90" cy="327.30" r="1.6" fill="#F0C68C"/>
<circle cx="73.10" cy="332.90" r="1.6" fill="#F0C68C"/>
<circle cx="75.10" cy="332.90" r="1.6" fill="#F0C68C"/>
<circle cx="77.10" cy="332.10" r="1.6" fill="#F0C68C"/>
<circle cx="79.40" cy="331.80" r="1.6" fill="#F0C68C"/>
<circle cx="81.60" cy="331.60" r="1.6" fill="#F0C68C"/>
<circle cx="84.20" cy="332.40" r="1.6" fill="#F0C68C"/>
<circle cx="86.80" cy="332.90" r="1.6" fill="#F0C68C"/>
<circle cx="74.80" cy="334.20" r="1.6" fill="#F0C68C"/>
<circle cx="77.10" cy="334.70" r="1.6" fill="#F0C68C"/>
<circle cx="79.90" cy="334.90" r="1.6" fill="#F0C68C"/>
<circle cx="83.00" cy="336.20" r="1.6" fill="#F0C68C"/>
<circle cx="85.50" cy="337.20" r="1.6" fill="#F0C68C"/>
<circle cx="105.10" cy="273.10" r="1.6" fill="#3322FF"/>
<circle cx="103.80" cy="276.10" r="1.6" fill="#3322FF"/>
<circle cx="106.20" cy="278.80" r="1.6" fill="#3322FF"/>
<circle cx="105.10" cy="287.20" r="1.6" fill="#3322FF"/>
<circle cx="107.20" cy="288.10" r="1.6" fill="#3322FF"/>
<circle cx="98.10" cy="289.40" r="1.6" fill="#3322FF"/>
<circle cx="100.60" cy="290.10" r="1.6" fill="#3322FF"/>
<circle cx="102.80" cy="290.60" r="1.6" fill="#3322FF"/>
<circle cx="111.90" cy="289.30" r="1.6" fill="#3322FF"/>
<circle cx="109.60" cy="291.50" r="1.6" fill="#3322FF"/>
<circle cx="103.10" cy="297.40" r="1.6" fill="#3322FF"/>
<circle cx="105.80" cy="297.20" r="1.6" fill="#3322FF"/>
<circle cx="105.10" cy="299.60" r="1.6" fill="#3322FF"/>
<circle cx="101.10" cy="306.40" r="1.6" fill="#3322FF"/>
<circle cx="103.40" cy="306.40" r="1.6" fill="#3322FF"/>
<circle cx="105.80" cy="306.40" r="1.6" fill="#3322FF"/>
<circle cx="108.80" cy="307.10" r="1.6" fill="#3322FF"/>
<circle cx="101.70" cy="315.50" r="1.6" fill="#3322FF"/>
<circle cx="103.80" cy="316.90" r="1.6" fill="#3322FF"/>
<circle cx="106.50" cy="313.80" r="1.6" fill="#3322FF"/>
<circle cx="108.50" cy="313.80" r="1.6" fill="#3322FF"/>
<circle cx="105.10" cy="321.40" r="1.6" fill="#3322FF"/>
<circle cx="104.20" cy="325.50" r="1.6" fill="#3322FF"/>
<circle cx="106.20" cy="327.10" r="1.6" fill="#3322FF"/>
<circle cx="130.30" cy="258.40" r="1.6" fill="#FF1A24"/>
<circle cx="130.30" cy="273.40" r="1.6" fill="#FF1A24"/>
<circle cx="130.30" cy="278.80" r="1.6" fill="#FF1A24"/>
<circle cx="123.50" cy="286.00" r="1.6" fill="#FF1A24"/>
<circle cx="126.20" cy="288.30" r="1.6" fill="#FF1A24"/>
<circle cx="128.70" cy="288.30" r="1.6" fill="#FF1A24"/>
<circle cx="131.70" cy="288.30" r="1.6" fill="#FF1A24"/>
<circle cx="134.70" cy="287.90" r="1.6" fill="#FF1A24"/>
<circle cx="137.10" cy="287.00" r="1.6" fill="#FF1A24"/>
<circle cx="129.60" cy="290.10" r="1.6" fill="#FF1A24"/>
<circle cx="127.30" cy="294.20" r="1.6" fill="#FF1A24"/>
<circle cx="130.00" cy="294.20" r="1.6" fill="#FF1A24"/>
<circle cx="132.80" cy="294.50" r="1.6" fill="#FF1A24"/>
<circle cx="126.00" cy="305.30" r="1.6" fill="#FF1A24"/>
<circle cx="128.30" cy="305.60" r="1.6" fill="#FF1A24"/>
<circle cx="131.70" cy="306.00" r="1.6" fill="#FF1A24"/>
<circle cx="134.40" cy="306.40" r="1.6" fill="#FF1A24"/>
<circle cx="130.30" cy="316.20" r="1.6" fill="#FF1A24"/>
<line x1="80.15" y1="324.00" x2="80.15" y2="328.00" stroke="#F0C68C" stroke-width="1" stroke-linecap="butt"/>
<line x1="75.15" y1="324.00" x2="85.15" y2="324.00" stroke="#F0C68C" stroke-width="1" stroke-linecap="butt"/>
<line x1="75.15" y1="328.00" x2="85.15" y2="328.00" stroke="#F0C68C" stroke-width="1" stroke-linecap="butt"/>
<line x1="71.70" y1="326.00" x2="88.60" y2="326.00" stroke="#000" stroke-width="2.2" stroke-linecap="butt"/>
<line x1="105.35" y1="296.90" x2="105.35" y2="302.90" stroke="#3322FF" stroke-width="1" stroke-linecap="butt"/>
<line x1="100.35" y1="296.90" x2="110.35" y2="296.90" stroke="#3322FF" stroke-width="1" stroke-linecap="butt"/>
<line x1="100.35" y1="302.90" x2="110.35" y2="302.90" stroke="#3322FF" stroke-width="1" stroke-linecap="butt"/>
<line x1="97.00" y1="299.90" x2="113.70" y2="299.90" stroke="#000" stroke-width="2.2" stroke-linecap="butt"/>
<line x1="130.50" y1="288.50" x2="130.50" y2="294.50" stroke="#FF1A24" stroke-width="1" stroke-linecap="butt"/>
<line x1="125.50" y1="288.50" x2="135.50" y2="288.50" stroke="#FF1A24" stroke-width="1" stroke-linecap="butt"/>
<line x1="125.50" y1="294.50" x2="135.50" y2="294.50" stroke="#FF1A24" stroke-width="1" stroke-linecap="butt"/>
<line x1="122.10" y1="291.50" x2="138.90" y2="291.50" stroke="#000" stroke-width="2.2" stroke-linecap="butt"/>
<line x1="76.40" y1="243.10" x2="131.20" y2="243.10" stroke="#000" stroke-width="2" stroke-linecap="butt"/>
<text x="102.90" y="239.30" font-size="10" font-weight="bold" text-anchor="middle" fill="#222" letter-spacing="0.6">***</text>
<line x1="78.10" y1="261.00" x2="105.50" y2="261.00" stroke="#000" stroke-width="2" stroke-linecap="butt"/>
<text x="90.50" y="259.30" font-size="10" font-weight="bold" text-anchor="middle" fill="#222" letter-spacing="0.6">**</text>
<text x="31.00" y="287.00" font-size="10.4" font-weight="bold" text-anchor="middle" fill="#000" textLength="69" lengthAdjust="spacingAndGlyphs" transform="rotate(-90 31.00 287.00)" stroke="#000" stroke-width="0.25">27-OHC ng/ml</text>
<line x1="212.60" y1="234.00" x2="212.60" y2="355.20" stroke="#000" stroke-width="2" stroke-linecap="butt"/>
<line x1="207.10" y1="354.20" x2="298.80" y2="354.20" stroke="#000" stroke-width="2" stroke-linecap="butt"/>
<line x1="207.10" y1="235.00" x2="212.60" y2="235.00" stroke="#000" stroke-width="2" stroke-linecap="butt"/>
<text x="205.60" y="238.50" font-size="9.9" font-weight="bold" text-anchor="end" fill="#000" stroke="#000" stroke-width="0.3">800</text>
<line x1="207.10" y1="264.80" x2="212.60" y2="264.80" stroke="#000" stroke-width="2" stroke-linecap="butt"/>
<text x="205.60" y="268.30" font-size="9.9" font-weight="bold" text-anchor="end" fill="#000" stroke="#000" stroke-width="0.3">600</text>
<line x1="207.10" y1="294.60" x2="212.60" y2="294.60" stroke="#000" stroke-width="2" stroke-linecap="butt"/>
<text x="205.60" y="298.10" font-size="9.9" font-weight="bold" text-anchor="end" fill="#000" stroke="#000" stroke-width="0.3">400</text>
<line x1="207.10" y1="324.40" x2="212.60" y2="324.40" stroke="#000" stroke-width="2" stroke-linecap="butt"/>
<text x="205.60" y="327.90" font-size="9.9" font-weight="bold" text-anchor="end" fill="#000" stroke="#000" stroke-width="0.3">200</text>
<line x1="207.10" y1="354.20" x2="212.60" y2="354.20" stroke="#000" stroke-width="2" stroke-linecap="butt"/>
<text x="205.60" y="357.70" font-size="9.9" font-weight="bold" text-anchor="end" fill="#000" stroke="#000" stroke-width="0.3">0</text>
<line x1="229.80" y1="354.20" x2="229.80" y2="359.20" stroke="#000" stroke-width="2" stroke-linecap="butt"/>
<line x1="256.00" y1="354.20" x2="256.00" y2="359.20" stroke="#000" stroke-width="2" stroke-linecap="butt"/>
<line x1="281.80" y1="354.20" x2="281.80" y2="359.20" stroke="#000" stroke-width="2" stroke-linecap="butt"/>
<text x="0" y="0" font-size="9.6" font-weight="bold" text-anchor="end" stroke="#000" stroke-width="0.3" transform="translate(230.80 366.30) scale(1.1 1) rotate(-45)">Control</text>
<text x="0" y="0" font-size="9.6" font-weight="bold" text-anchor="end" stroke="#000" stroke-width="0.3" transform="translate(261.20 367.10) scale(1.1 1) rotate(-45)">MCI</text>
<text x="0" y="0" font-size="9.6" font-weight="bold" text-anchor="end" stroke="#000" stroke-width="0.3" transform="translate(286.70 366.50) scale(1.1 1) rotate(-45)">AD</text>
<circle cx="228.30" cy="279.50" r="1.6" fill="#F0C68C"/>
<circle cx="231.60" cy="281.20" r="1.6" fill="#F0C68C"/>
<circle cx="225.60" cy="296.10" r="1.6" fill="#F0C68C"/>
<circle cx="228.60" cy="295.60" r="1.6" fill="#F0C68C"/>
<circle cx="231.60" cy="294.80" r="1.6" fill="#F0C68C"/>
<circle cx="234.30" cy="297.60" r="1.6" fill="#F0C68C"/>
<circle cx="228.30" cy="304.70" r="1.6" fill="#F0C68C"/>
<circle cx="231.60" cy="307.40" r="1.6" fill="#F0C68C"/>
<circle cx="228.60" cy="310.10" r="1.6" fill="#F0C68C"/>
<circle cx="231.60" cy="311.50" r="1.6" fill="#F0C68C"/>
<circle cx="227.50" cy="314.90" r="1.6" fill="#F0C68C"/>
<circle cx="230.20" cy="315.60" r="1.6" fill="#F0C68C"/>
<circle cx="228.60" cy="316.90" r="1.6" fill="#F0C68C"/>
<circle cx="231.60" cy="320.60" r="1.6" fill="#F0C68C"/>
<circle cx="227.20" cy="322.40" r="1.6" fill="#F0C68C"/>
<circle cx="230.20" cy="324.40" r="1.6" fill="#F0C68C"/>
<circle cx="232.70" cy="324.40" r="1.6" fill="#F0C68C"/>
<circle cx="237.00" cy="325.10" r="1.6" fill="#F0C68C"/>
<circle cx="222.90" cy="326.10" r="1.6" fill="#F0C68C"/>
<circle cx="225.90" cy="327.40" r="1.6" fill="#F0C68C"/>
<circle cx="228.60" cy="328.20" r="1.6" fill="#F0C68C"/>
<circle cx="234.30" cy="328.50" r="1.6" fill="#F0C68C"/>
<circle cx="231.30" cy="325.80" r="1.6" fill="#F0C68C"/>
<circle cx="230.00" cy="333.90" r="1.6" fill="#F0C68C"/>
<circle cx="255.80" cy="304.00" r="1.6" fill="#3322FF"/>
<circle cx="252.40" cy="307.00" r="1.6" fill="#3322FF"/>
<circle cx="259.60" cy="307.40" r="1.6" fill="#3322FF"/>
<circle cx="252.40" cy="309.50" r="1.6" fill="#3322FF"/>
<circle cx="249.00" cy="311.50" r="1.6" fill="#3322FF"/>
<circle cx="255.80" cy="311.50" r="1.6" fill="#3322FF"/>
<circle cx="259.60" cy="310.80" r="1.6" fill="#3322FF"/>
<circle cx="262.90" cy="311.50" r="1.6" fill="#3322FF"/>
<circle cx="255.80" cy="317.90" r="1.6" fill="#3322FF"/>
<circle cx="250.60" cy="319.70" r="1.6" fill="#3322FF"/>
<circle cx="254.20" cy="322.00" r="1.6" fill="#3322FF"/>
<circle cx="257.90" cy="322.10" r="1.6" fill="#3322FF"/>
<circle cx="261.30" cy="323.10" r="1.6" fill="#3322FF"/>
<circle cx="250.60" cy="324.40" r="1.6" fill="#3322FF"/>
<circle cx="254.20" cy="324.40" r="1.6" fill="#3322FF"/>
<circle cx="257.90" cy="326.10" r="1.6" fill="#3322FF"/>
<circle cx="261.30" cy="324.40" r="1.6" fill="#3322FF"/>
<circle cx="254.20" cy="329.60" r="1.6" fill="#3322FF"/>
<circle cx="257.90" cy="329.90" r="1.6" fill="#3322FF"/>
<circle cx="255.80" cy="331.50" r="1.6" fill="#3322FF"/>
<circle cx="259.20" cy="332.30" r="1.6" fill="#3322FF"/>
<circle cx="252.40" cy="333.70" r="1.6" fill="#3322FF"/>
<circle cx="249.00" cy="336.00" r="1.6" fill="#3322FF"/>
<circle cx="252.40" cy="337.30" r="1.6" fill="#3322FF"/>
<circle cx="255.80" cy="339.40" r="1.6" fill="#3322FF"/>
<circle cx="259.20" cy="339.40" r="1.6" fill="#3322FF"/>
<circle cx="262.90" cy="339.40" r="1.6" fill="#3322FF"/>
<circle cx="281.60" cy="318.20" r="1.6" fill="#FF1A24"/>
<circle cx="281.60" cy="330.40" r="1.6" fill="#FF1A24"/>
<circle cx="277.40" cy="333.00" r="1.6" fill="#FF1A24"/>
<circle cx="280.30" cy="334.80" r="1.6" fill="#FF1A24"/>
<circle cx="283.30" cy="332.80" r="1.6" fill="#FF1A24"/>
<circle cx="286.00" cy="333.40" r="1.6" fill="#FF1A24"/>
<circle cx="275.80" cy="338.90" r="1.6" fill="#FF1A24"/>
<circle cx="278.40" cy="339.30" r="1.6" fill="#FF1A24"/>
<circle cx="280.50" cy="339.30" r="1.6" fill="#FF1A24"/>
<circle cx="282.60" cy="339.10" r="1.6" fill="#FF1A24"/>
<circle cx="284.80" cy="339.30" r="1.6" fill="#FF1A24"/>
<circle cx="287.30" cy="341.50" r="1.6" fill="#FF1A24"/>
<circle cx="274.60" cy="344.90" r="1.6" fill="#FF1A24"/>
<circle cx="277.30" cy="344.90" r="1.6" fill="#FF1A24"/>
<circle cx="280.30" cy="346.70" r="1.6" fill="#FF1A24"/>
<circle cx="283.10" cy="344.40" r="1.6" fill="#FF1A24"/>
<circle cx="286.00" cy="347.80" r="1.6" fill="#FF1A24"/>
<circle cx="288.80" cy="348.10" r="1.6" fill="#FF1A24"/>
<line x1="229.95" y1="310.10" x2="229.95" y2="316.10" stroke="#F0C68C" stroke-width="1" stroke-linecap="butt"/>
<line x1="224.95" y1="310.10" x2="234.95" y2="310.10" stroke="#F0C68C" stroke-width="1" stroke-linecap="butt"/>
<line x1="224.95" y1="316.10" x2="234.95" y2="316.10" stroke="#F0C68C" stroke-width="1" stroke-linecap="butt"/>
<line x1="221.10" y1="313.10" x2="238.80" y2="313.10" stroke="#000" stroke-width="2.2" stroke-linecap="butt"/>
<line x1="255.95" y1="320.60" x2="255.95" y2="325.60" stroke="#3322FF" stroke-width="1" stroke-linecap="butt"/>
<line x1="250.95" y1="320.60" x2="260.95" y2="320.60" stroke="#3322FF" stroke-width="1" stroke-linecap="butt"/>
<line x1="250.95" y1="325.60" x2="260.95" y2="325.60" stroke="#3322FF" stroke-width="1" stroke-linecap="butt"/>
<line x1="247.20" y1="323.10" x2="264.70" y2="323.10" stroke="#000" stroke-width="2.2" stroke-linecap="butt"/>
<line x1="281.75" y1="336.80" x2="281.75" y2="340.80" stroke="#FF1A24" stroke-width="1" stroke-linecap="butt"/>
<line x1="276.75" y1="336.80" x2="286.75" y2="336.80" stroke="#FF1A24" stroke-width="1" stroke-linecap="butt"/>
<line x1="276.75" y1="340.80" x2="286.75" y2="340.80" stroke="#FF1A24" stroke-width="1" stroke-linecap="butt"/>
<line x1="273.10" y1="338.80" x2="290.40" y2="338.80" stroke="#000" stroke-width="2.2" stroke-linecap="butt"/>
<line x1="229.00" y1="255.20" x2="282.60" y2="255.20" stroke="#000" stroke-width="2" stroke-linecap="butt"/>
<text x="252.70" y="253.10" font-size="10" font-weight="bold" text-anchor="middle" fill="#222" letter-spacing="0.6">**</text>
<line x1="229.00" y1="271.00" x2="261.40" y2="271.00" stroke="#000" stroke-width="2" stroke-linecap="butt"/>
<text x="244.80" y="269.10" font-size="10" font-weight="bold" text-anchor="middle" fill="#222" letter-spacing="0.6">*</text>
<line x1="257.60" y1="285.70" x2="285.70" y2="285.70" stroke="#000" stroke-width="2" stroke-linecap="butt"/>
<text x="273.40" y="284.10" font-size="10" font-weight="bold" text-anchor="middle" fill="#222" letter-spacing="0.6">*</text>
<text x="184.00" y="285.60" font-size="10.4" font-weight="bold" text-anchor="middle" fill="#000" textLength="76" lengthAdjust="spacingAndGlyphs" transform="rotate(-90 184.00 285.60)" stroke="#000" stroke-width="0.25">24S-OHC ng/ml</text>
<line x1="364.30" y1="224.20" x2="364.30" y2="353.60" stroke="#000" stroke-width="2" stroke-linecap="butt"/>
<line x1="358.80" y1="352.60" x2="461.90" y2="352.60" stroke="#000" stroke-width="2" stroke-linecap="butt"/>
<line x1="358.80" y1="225.20" x2="364.30" y2="225.20" stroke="#000" stroke-width="2" stroke-linecap="butt"/>
<text x="356.40" y="228.50" font-size="10.5" font-weight="bold" text-anchor="end" fill="#000" stroke="#000" stroke-width="0.3">40</text>
<line x1="358.80" y1="257.00" x2="364.30" y2="257.00" stroke="#000" stroke-width="2" stroke-linecap="butt"/>
<text x="356.40" y="260.30" font-size="10.5" font-weight="bold" text-anchor="end" fill="#000" stroke="#000" stroke-width="0.3">30</text>
<line x1="358.80" y1="288.90" x2="364.30" y2="288.90" stroke="#000" stroke-width="2" stroke-linecap="butt"/>
<text x="356.40" y="292.20" font-size="10.5" font-weight="bold" text-anchor="end" fill="#000" stroke="#000" stroke-width="0.3">20</text>
<line x1="358.80" y1="320.80" x2="364.30" y2="320.80" stroke="#000" stroke-width="2" stroke-linecap="butt"/>
<text x="356.40" y="324.10" font-size="10.5" font-weight="bold" text-anchor="end" fill="#000" stroke="#000" stroke-width="0.3">10</text>
<line x1="358.80" y1="352.60" x2="364.30" y2="352.60" stroke="#000" stroke-width="2" stroke-linecap="butt"/>
<text x="356.40" y="355.90" font-size="10.5" font-weight="bold" text-anchor="end" fill="#000" stroke="#000" stroke-width="0.3">0</text>
<line x1="383.20" y1="352.60" x2="383.20" y2="357.60" stroke="#000" stroke-width="2" stroke-linecap="butt"/>
<line x1="412.40" y1="352.60" x2="412.40" y2="357.60" stroke="#000" stroke-width="2" stroke-linecap="butt"/>
<line x1="441.60" y1="352.60" x2="441.60" y2="357.60" stroke="#000" stroke-width="2" stroke-linecap="butt"/>
<text x="0" y="0" font-size="9.6" font-weight="bold" text-anchor="end" stroke="#000" stroke-width="0.3" transform="translate(385.50 366.40) scale(1.1 1) rotate(-45)">Control</text>
<text x="0" y="0" font-size="9.6" font-weight="bold" text-anchor="end" stroke="#000" stroke-width="0.3" transform="translate(415.50 366.50) scale(1.1 1) rotate(-45)">MCI</text>
<text x="0" y="0" font-size="9.6" font-weight="bold" text-anchor="end" stroke="#000" stroke-width="0.3" transform="translate(447.90 365.80) scale(1.1 1) rotate(-45)">AD</text>
<circle cx="383.20" cy="341.40" r="1.6" fill="#F0C68C"/>
<circle cx="381.60" cy="344.60" r="1.6" fill="#F0C68C"/>
<circle cx="384.30" cy="343.90" r="1.6" fill="#F0C68C"/>
<circle cx="376.10" cy="348.00" r="1.6" fill="#F0C68C"/>
<circle cx="378.80" cy="348.00" r="1.6" fill="#F0C68C"/>
<circle cx="381.60" cy="347.30" r="1.6" fill="#F0C68C"/>
<circle cx="384.30" cy="347.30" r="1.6" fill="#F0C68C"/>
<circle cx="387.00" cy="348.00" r="1.6" fill="#F0C68C"/>
<circle cx="389.70" cy="348.70" r="1.6" fill="#F0C68C"/>
<circle cx="375.40" cy="350.00" r="1.6" fill="#F0C68C"/>
<circle cx="378.20" cy="350.00" r="1.6" fill="#F0C68C"/>
<circle cx="380.90" cy="350.00" r="1.6" fill="#F0C68C"/>
<circle cx="383.60" cy="350.00" r="1.6" fill="#F0C68C"/>
<circle cx="386.30" cy="350.00" r="1.6" fill="#F0C68C"/>
<circle cx="389.00" cy="350.00" r="1.6" fill="#F0C68C"/>
<circle cx="391.80" cy="350.70" r="1.6" fill="#F0C68C"/>
<circle cx="412.60" cy="326.00" r="1.6" fill="#3322FF"/>
<circle cx="408.70" cy="333.70" r="1.6" fill="#3322FF"/>
<circle cx="413.50" cy="334.10" r="1.6" fill="#3322FF"/>
<circle cx="416.20" cy="335.50" r="1.6" fill="#3322FF"/>
<circle cx="405.10" cy="337.40" r="1.6" fill="#3322FF"/>
<circle cx="408.10" cy="337.80" r="1.6" fill="#3322FF"/>
<circle cx="410.80" cy="336.80" r="1.6" fill="#3322FF"/>
<circle cx="414.20" cy="336.00" r="1.6" fill="#3322FF"/>
<circle cx="417.30" cy="336.80" r="1.6" fill="#3322FF"/>
<circle cx="420.60" cy="337.10" r="1.6" fill="#3322FF"/>
<circle cx="404.00" cy="339.80" r="1.6" fill="#3322FF"/>
<circle cx="407.40" cy="339.80" r="1.6" fill="#3322FF"/>
<circle cx="410.80" cy="339.80" r="1.6" fill="#3322FF"/>
<circle cx="414.20" cy="340.50" r="1.6" fill="#3322FF"/>
<circle cx="417.60" cy="341.40" r="1.6" fill="#3322FF"/>
<circle cx="404.70" cy="342.80" r="1.6" fill="#3322FF"/>
<circle cx="408.10" cy="343.20" r="1.6" fill="#3322FF"/>
<circle cx="411.50" cy="342.80" r="1.6" fill="#3322FF"/>
<circle cx="414.90" cy="342.80" r="1.6" fill="#3322FF"/>
<circle cx="420.60" cy="345.00" r="1.6" fill="#3322FF"/>
<circle cx="405.30" cy="345.50" r="1.6" fill="#3322FF"/>
<circle cx="408.70" cy="345.90" r="1.6" fill="#3322FF"/>
<circle cx="412.10" cy="345.30" r="1.6" fill="#3322FF"/>
<circle cx="416.20" cy="348.70" r="1.6" fill="#3322FF"/>
<circle cx="419.20" cy="349.30" r="1.6" fill="#3322FF"/>
<circle cx="441.40" cy="286.50" r="1.6" fill="#FF1A24"/>
<circle cx="440.00" cy="306.90" r="1.6" fill="#FF1A24"/>
<circle cx="443.40" cy="310.20" r="1.6" fill="#FF1A24"/>
<circle cx="438.20" cy="312.20" r="1.6" fill="#FF1A24"/>
<circle cx="444.80" cy="312.90" r="1.6" fill="#FF1A24"/>
<circle cx="441.40" cy="315.10" r="1.6" fill="#FF1A24"/>
<circle cx="442.70" cy="322.80" r="1.6" fill="#FF1A24"/>
<circle cx="440.00" cy="325.50" r="1.6" fill="#FF1A24"/>
<circle cx="440.00" cy="328.30" r="1.6" fill="#FF1A24"/>
<circle cx="443.40" cy="330.00" r="1.6" fill="#FF1A24"/>
<circle cx="433.20" cy="334.10" r="1.6" fill="#FF1A24"/>
<circle cx="436.60" cy="334.40" r="1.6" fill="#FF1A24"/>
<circle cx="443.40" cy="333.70" r="1.6" fill="#FF1A24"/>
<circle cx="449.50" cy="333.40" r="1.6" fill="#FF1A24"/>
<circle cx="440.00" cy="336.40" r="1.6" fill="#FF1A24"/>
<circle cx="446.10" cy="336.80" r="1.6" fill="#FF1A24"/>
<circle cx="441.40" cy="341.40" r="1.6" fill="#FF1A24"/>
<line x1="383.45" y1="346.40" x2="383.45" y2="348.80" stroke="#F0C68C" stroke-width="1" stroke-linecap="butt"/>
<line x1="378.45" y1="346.40" x2="388.45" y2="346.40" stroke="#F0C68C" stroke-width="1" stroke-linecap="butt"/>
<line x1="378.45" y1="348.80" x2="388.45" y2="348.80" stroke="#F0C68C" stroke-width="1" stroke-linecap="butt"/>
<line x1="373.80" y1="347.60" x2="393.10" y2="347.60" stroke="#000" stroke-width="2.2" stroke-linecap="butt"/>
<line x1="412.55" y1="339.40" x2="412.55" y2="342.40" stroke="#3322FF" stroke-width="1" stroke-linecap="butt"/>
<line x1="407.55" y1="339.40" x2="417.55" y2="339.40" stroke="#3322FF" stroke-width="1" stroke-linecap="butt"/>
<line x1="407.55" y1="342.40" x2="417.55" y2="342.40" stroke="#3322FF" stroke-width="1" stroke-linecap="butt"/>
<line x1="403.00" y1="340.90" x2="422.10" y2="340.90" stroke="#000" stroke-width="2.2" stroke-linecap="butt"/>
<line x1="441.70" y1="320.30" x2="441.70" y2="327.30" stroke="#FF1A24" stroke-width="1" stroke-linecap="butt"/>
<line x1="436.70" y1="320.30" x2="446.70" y2="320.30" stroke="#FF1A24" stroke-width="1" stroke-linecap="butt"/>
<line x1="436.70" y1="327.30" x2="446.70" y2="327.30" stroke="#FF1A24" stroke-width="1" stroke-linecap="butt"/>
<line x1="432.10" y1="323.80" x2="451.30" y2="323.80" stroke="#000" stroke-width="2.2" stroke-linecap="butt"/>
<line x1="380.10" y1="262.00" x2="442.10" y2="262.00" stroke="#000" stroke-width="2" stroke-linecap="butt"/>
<text x="413.10" y="257.50" font-size="10" font-weight="bold" text-anchor="middle" fill="#222" letter-spacing="0.6">***</text>
<line x1="408.90" y1="278.10" x2="442.10" y2="278.10" stroke="#000" stroke-width="2" stroke-linecap="butt"/>
<text x="423.30" y="276.70" font-size="10" font-weight="bold" text-anchor="middle" fill="#222" letter-spacing="0.6">**</text>
<line x1="382.20" y1="309.50" x2="411.70" y2="309.50" stroke="#000" stroke-width="2" stroke-linecap="butt"/>
<text x="396.80" y="305.60" font-size="10" font-weight="bold" text-anchor="middle" fill="#222" letter-spacing="0.6">*</text>
<text x="337.60" y="280.90" font-size="11.0" font-weight="bold" text-anchor="middle" fill="#000" textLength="79.5" lengthAdjust="spacingAndGlyphs" transform="rotate(-90 337.60 280.90)" stroke="#000" stroke-width="0.25">27-OHC/24S-OHC</text>
<text x="0.60" y="12.00" font-size="15.8" font-weight="bold" text-anchor="start" fill="#000" stroke="#000" stroke-width="1.0">A</text>
<text x="174.30" y="12.00" font-size="15.8" font-weight="bold" text-anchor="start" fill="#000" stroke="#000" stroke-width="1.0">B</text>
<text x="338.40" y="12.00" font-size="15.8" font-weight="bold" text-anchor="start" fill="#000" stroke="#000" stroke-width="1.0">C</text>
<text x="500.40" y="12.00" font-size="15.8" font-weight="bold" text-anchor="start" fill="#000" stroke="#000" stroke-width="1.0">D</text>
<text x="5.20" y="217.90" font-size="15.8" font-weight="bold" text-anchor="start" fill="#000" stroke="#000" stroke-width="1.0">E</text>
<text x="167.60" y="217.90" font-size="15.8" font-weight="bold" text-anchor="start" fill="#000" stroke="#000" stroke-width="1.0">F</text>
<text x="331.40" y="217.90" font-size="15.8" font-weight="bold" text-anchor="start" fill="#000" stroke="#000" stroke-width="1.0">G</text>
<text x="475.70" y="213.40" font-size="15.8" font-weight="bold" text-anchor="start" fill="#000" stroke="#000" stroke-width="1.0">H</text>
<text x="1.40" y="419.10" font-size="15.8" font-weight="bold" text-anchor="start" fill="#000" stroke="#000" stroke-width="1.0">I</text>
<text x="239.00" y="419.60" font-size="15.8" font-weight="bold" text-anchor="start" fill="#000" stroke="#000" stroke-width="1.0">J</text>
<text x="462.30" y="421.80" font-size="15.8" font-weight="bold" text-anchor="start" fill="#000" stroke="#000" stroke-width="1.0">K</text>
<line x1="500.20" y1="221.60" x2="500.20" y2="352.80" stroke="#000" stroke-width="2" stroke-linecap="butt"/>
<line x1="496.00" y1="351.80" x2="668.10" y2="351.80" stroke="#000" stroke-width="2" stroke-linecap="butt"/>
<line x1="496.00" y1="222.60" x2="500.20" y2="222.60" stroke="#000" stroke-width="2" stroke-linecap="butt"/>
<text x="494.90" y="225.60" font-size="8.4" font-weight="normal" text-anchor="end" fill="#000" stroke="#000" stroke-width="0.35">5</text>
<line x1="496.00" y1="248.40" x2="500.20" y2="248.40" stroke="#000" stroke-width="2" stroke-linecap="butt"/>
<text x="494.90" y="251.40" font-size="8.4" font-weight="normal" text-anchor="end" fill="#000" stroke="#000" stroke-width="0.35">4</text>
<line x1="496.00" y1="274.20" x2="500.20" y2="274.20" stroke="#000" stroke-width="2" stroke-linecap="butt"/>
<text x="494.90" y="277.20" font-size="8.4" font-weight="normal" text-anchor="end" fill="#000" stroke="#000" stroke-width="0.35">3</text>
<line x1="496.00" y1="300.00" x2="500.20" y2="300.00" stroke="#000" stroke-width="2" stroke-linecap="butt"/>
<text x="494.90" y="303.00" font-size="8.4" font-weight="normal" text-anchor="end" fill="#000" stroke="#000" stroke-width="0.35">2</text>
<line x1="496.00" y1="325.90" x2="500.20" y2="325.90" stroke="#000" stroke-width="2" stroke-linecap="butt"/>
<text x="494.90" y="328.90" font-size="8.4" font-weight="normal" text-anchor="end" fill="#000" stroke="#000" stroke-width="0.35">1</text>
<line x1="496.00" y1="351.80" x2="500.20" y2="351.80" stroke="#000" stroke-width="2" stroke-linecap="butt"/>
<text x="494.90" y="354.80" font-size="8.4" font-weight="normal" text-anchor="end" fill="#000" stroke="#000" stroke-width="0.35">0</text>
<line x1="500.60" y1="351.80" x2="500.60" y2="356.30" stroke="#000" stroke-width="2" stroke-linecap="butt"/>
<text x="500.60" y="367.00" font-size="8.4" font-weight="bold" text-anchor="middle" fill="#000">0</text>
<line x1="556.00" y1="351.80" x2="556.00" y2="356.30" stroke="#000" stroke-width="2" stroke-linecap="butt"/>
<text x="556.00" y="367.00" font-size="8.4" font-weight="bold" text-anchor="middle" fill="#000">10</text>
<line x1="611.50" y1="351.80" x2="611.50" y2="356.30" stroke="#000" stroke-width="2" stroke-linecap="butt"/>
<text x="611.50" y="367.00" font-size="8.4" font-weight="bold" text-anchor="middle" fill="#000">20</text>
<line x1="667.10" y1="351.80" x2="667.10" y2="356.30" stroke="#000" stroke-width="2" stroke-linecap="butt"/>
<text x="667.10" y="367.00" font-size="8.4" font-weight="bold" text-anchor="middle" fill="#000">30</text>
<circle cx="522.70" cy="256.50" r="2.4" fill="#000"/>
<circle cx="544.40" cy="262.30" r="2.4" fill="#000"/>
<circle cx="550.20" cy="263.90" r="2.4" fill="#000"/>
<circle cx="583.50" cy="265.00" r="2.4" fill="#000"/>
<circle cx="589.10" cy="257.40" r="2.4" fill="#000"/>
<circle cx="556.00" cy="278.90" r="2.4" fill="#000"/>
<circle cx="556.00" cy="290.70" r="2.4" fill="#000"/>
<circle cx="566.70" cy="281.50" r="2.4" fill="#000"/>
<circle cx="572.50" cy="284.90" r="2.4" fill="#000"/>
<circle cx="594.30" cy="289.40" r="2.4" fill="#000"/>
<circle cx="605.90" cy="294.10" r="2.4" fill="#000"/>
<circle cx="605.90" cy="298.60" r="2.4" fill="#000"/>
<circle cx="616.70" cy="300.70" r="2.4" fill="#000"/>
<circle cx="633.50" cy="300.70" r="2.4" fill="#000"/>
<circle cx="594.30" cy="312.30" r="2.4" fill="#000"/>
<circle cx="544.40" cy="321.70" r="2.4" fill="#000"/>
<circle cx="639.00" cy="328.30" r="2.4" fill="#000"/>
<line x1="522.60" y1="266.30" x2="639.00" y2="309.10" stroke="#000" stroke-width="2" stroke-linecap="butt"/>
<text x="586.50" y="397.00" font-size="10.6" font-weight="bold" text-anchor="middle" fill="#000" textLength="28.8" lengthAdjust="spacingAndGlyphs">MMSE</text>
<text x="583.50" y="216.10" font-size="10.6" font-weight="bold" text-anchor="start" fill="#111" textLength="50.5" lengthAdjust="spacingAndGlyphs">Pearson's</text>
<text x="641.80" y="216.10" font-size="10.6" font-weight="bold" text-anchor="start" fill="#111" font-style="italic" textLength="40.8" lengthAdjust="spacingAndGlyphs">r = -0.56</text>
<text x="640.60" y="234.50" font-size="10.6" font-weight="bold" text-anchor="start" fill="#111" font-style="italic" textLength="41.2" lengthAdjust="spacingAndGlyphs">P=0.007</text>
<text x="484.90" y="283.50" font-size="11.3" font-weight="bold" text-anchor="middle" fill="#000" textLength="34.5" lengthAdjust="spacingAndGlyphs" transform="rotate(-90 484.90 283.50)">ST/LT</text>
<line x1="65.40" y1="442.20" x2="65.40" y2="553.80" stroke="#000" stroke-width="2" stroke-linecap="butt"/>
<line x1="61.20" y1="552.80" x2="220.90" y2="552.80" stroke="#000" stroke-width="2" stroke-linecap="butt"/>
<line x1="61.20" y1="443.20" x2="65.40" y2="443.20" stroke="#000" stroke-width="2" stroke-linecap="butt"/>
<text x="60.10" y="446.20" font-size="8.4" font-weight="normal" text-anchor="end" fill="#000" stroke="#000" stroke-width="0.35">10</text>
<line x1="61.20" y1="498.40" x2="65.40" y2="498.40" stroke="#000" stroke-width="2" stroke-linecap="butt"/>
<text x="60.10" y="501.40" font-size="8.4" font-weight="normal" text-anchor="end" fill="#000" stroke="#000" stroke-width="0.35">5</text>
<line x1="61.20" y1="552.80" x2="65.40" y2="552.80" stroke="#000" stroke-width="2" stroke-linecap="butt"/>
<text x="60.10" y="555.80" font-size="8.4" font-weight="normal" text-anchor="end" fill="#000" stroke="#000" stroke-width="0.35">0</text>
<line x1="65.10" y1="552.80" x2="65.10" y2="557.30" stroke="#000" stroke-width="2" stroke-linecap="butt"/>
<text x="65.10" y="568.00" font-size="8.4" font-weight="bold" text-anchor="middle" fill="#000">0</text>
<line x1="116.60" y1="552.80" x2="116.60" y2="557.30" stroke="#000" stroke-width="2" stroke-linecap="butt"/>
<text x="116.60" y="568.00" font-size="8.4" font-weight="bold" text-anchor="middle" fill="#000">10</text>
<line x1="168.20" y1="552.80" x2="168.20" y2="557.30" stroke="#000" stroke-width="2" stroke-linecap="butt"/>
<text x="168.20" y="568.00" font-size="8.4" font-weight="bold" text-anchor="middle" fill="#000">20</text>
<line x1="219.90" y1="552.80" x2="219.90" y2="557.30" stroke="#000" stroke-width="2" stroke-linecap="butt"/>
<text x="219.90" y="568.00" font-size="8.4" font-weight="bold" text-anchor="middle" fill="#000">30</text>
<circle cx="116.80" cy="460.00" r="2.4" fill="#000"/>
<circle cx="106.70" cy="472.20" r="2.4" fill="#000"/>
<circle cx="106.70" cy="478.50" r="2.4" fill="#000"/>
<circle cx="111.90" cy="483.40" r="2.4" fill="#000"/>
<circle cx="116.80" cy="485.50" r="2.4" fill="#000"/>
<circle cx="101.60" cy="494.40" r="2.4" fill="#000"/>
<circle cx="116.80" cy="493.20" r="2.4" fill="#000"/>
<circle cx="116.80" cy="494.80" r="2.4" fill="#000"/>
<circle cx="127.30" cy="496.30" r="2.4" fill="#000"/>
<circle cx="132.40" cy="493.70" r="2.4" fill="#000"/>
<circle cx="142.50" cy="487.40" r="2.4" fill="#000"/>
<circle cx="173.80" cy="493.70" r="2.4" fill="#000"/>
<circle cx="194.30" cy="493.20" r="2.4" fill="#000"/>
<circle cx="199.70" cy="494.20" r="2.4" fill="#000"/>
<circle cx="183.80" cy="505.60" r="2.4" fill="#000"/>
<circle cx="188.90" cy="506.50" r="2.4" fill="#000"/>
<circle cx="204.80" cy="506.50" r="2.4" fill="#000"/>
<line x1="101.60" y1="482.20" x2="204.80" y2="501.40" stroke="#000" stroke-width="2" stroke-linecap="butt"/>
<text x="142.30" y="582.20" font-size="10.6" font-weight="bold" text-anchor="middle" fill="#000" textLength="28.8" lengthAdjust="spacingAndGlyphs">MMSE</text>
<text x="121.60" y="432.30" font-size="10.6" font-weight="bold" text-anchor="start" fill="#111" textLength="51.3" lengthAdjust="spacingAndGlyphs">Pearson's</text>
<text x="182.30" y="432.30" font-size="10.6" font-weight="bold" text-anchor="start" fill="#111" font-style="italic" textLength="40.0" lengthAdjust="spacingAndGlyphs">r = -0.61</text>
<text x="180.70" y="449.80" font-size="10.6" font-weight="bold" text-anchor="start" fill="#111" font-style="italic" textLength="41.0" lengthAdjust="spacingAndGlyphs">P=0.007</text>
<text x="36.30" y="493.60" font-size="12.3" font-weight="bold" text-anchor="middle" fill="#000" textLength="94" lengthAdjust="spacingAndGlyphs" transform="rotate(-90 36.30 493.60)">Total cholesterol</text>
<text x="47.60" y="492.70" font-size="12.3" font-weight="bold" text-anchor="middle" fill="#000" textLength="83.5" lengthAdjust="spacingAndGlyphs" transform="rotate(-90 47.60 492.70)">in AD (mmol/L)</text>
<line x1="290.00" y1="431.80" x2="290.00" y2="552.60" stroke="#000" stroke-width="2" stroke-linecap="butt"/>
<line x1="285.80" y1="551.60" x2="459.60" y2="551.60" stroke="#000" stroke-width="2" stroke-linecap="butt"/>
<line x1="285.80" y1="432.80" x2="290.00" y2="432.80" stroke="#000" stroke-width="2" stroke-linecap="butt"/>
<text x="284.70" y="435.80" font-size="8.4" font-weight="normal" text-anchor="end" fill="#000" stroke="#000" stroke-width="0.35">1500</text>
<line x1="285.80" y1="472.50" x2="290.00" y2="472.50" stroke="#000" stroke-width="2" stroke-linecap="butt"/>
<text x="284.70" y="475.50" font-size="8.4" font-weight="normal" text-anchor="end" fill="#000" stroke="#000" stroke-width="0.35">1000</text>
<line x1="285.80" y1="512.20" x2="290.00" y2="512.20" stroke="#000" stroke-width="2" stroke-linecap="butt"/>
<text x="284.70" y="515.20" font-size="8.4" font-weight="normal" text-anchor="end" fill="#000" stroke="#000" stroke-width="0.35">500</text>
<line x1="285.80" y1="551.80" x2="290.00" y2="551.80" stroke="#000" stroke-width="2" stroke-linecap="butt"/>
<text x="284.70" y="554.80" font-size="8.4" font-weight="normal" text-anchor="end" fill="#000" stroke="#000" stroke-width="0.35">0</text>
<line x1="290.00" y1="551.60" x2="290.00" y2="556.10" stroke="#000" stroke-width="2" stroke-linecap="butt"/>
<text x="290.00" y="566.80" font-size="8.4" font-weight="bold" text-anchor="middle" fill="#000">0</text>
<line x1="346.00" y1="551.60" x2="346.00" y2="556.10" stroke="#000" stroke-width="2" stroke-linecap="butt"/>
<text x="346.00" y="566.80" font-size="8.4" font-weight="bold" text-anchor="middle" fill="#000">10</text>
<line x1="401.80" y1="551.60" x2="401.80" y2="556.10" stroke="#000" stroke-width="2" stroke-linecap="butt"/>
<text x="401.80" y="566.80" font-size="8.4" font-weight="bold" text-anchor="middle" fill="#000">20</text>
<line x1="457.70" y1="551.60" x2="457.70" y2="556.10" stroke="#000" stroke-width="2" stroke-linecap="butt"/>
<text x="457.70" y="566.80" font-size="8.4" font-weight="bold" text-anchor="middle" fill="#000">30</text>
<circle cx="312.50" cy="472.60" r="2.4" fill="#000"/>
<circle cx="318.20" cy="458.10" r="2.4" fill="#000"/>
<circle cx="340.10" cy="487.70" r="2.4" fill="#000"/>
<circle cx="346.00" cy="477.80" r="2.4" fill="#000"/>
<circle cx="351.50" cy="505.20" r="2.4" fill="#000"/>
<circle cx="362.80" cy="505.40" r="2.4" fill="#000"/>
<circle cx="373.80" cy="504.30" r="2.4" fill="#000"/>
<circle cx="385.00" cy="492.70" r="2.4" fill="#000"/>
<circle cx="390.40" cy="486.10" r="2.4" fill="#000"/>
<circle cx="395.90" cy="485.00" r="2.4" fill="#000"/>
<circle cx="401.80" cy="491.20" r="2.4" fill="#000"/>
<circle cx="407.30" cy="488.80" r="2.4" fill="#000"/>
<circle cx="424.20" cy="488.80" r="2.4" fill="#000"/>
<circle cx="429.60" cy="487.70" r="2.4" fill="#000"/>
<circle cx="424.20" cy="515.00" r="2.4" fill="#000"/>
<circle cx="435.10" cy="504.30" r="2.4" fill="#000"/>
<circle cx="440.80" cy="489.90" r="2.4" fill="#000"/>
<line x1="312.50" y1="478.50" x2="440.80" y2="499.70" stroke="#000" stroke-width="2" stroke-linecap="butt"/>
<text x="372.60" y="585.60" font-size="10.6" font-weight="bold" text-anchor="middle" fill="#000" textLength="28.8" lengthAdjust="spacingAndGlyphs">MMSE</text>
<text x="346.60" y="429.00" font-size="10.6" font-weight="bold" text-anchor="start" fill="#111" textLength="51.3" lengthAdjust="spacingAndGlyphs">Pearson's</text>
<text x="407.30" y="429.00" font-size="10.6" font-weight="bold" text-anchor="start" fill="#111" font-style="italic" textLength="40.0" lengthAdjust="spacingAndGlyphs">r = -0.49</text>
<text x="405.70" y="446.50" font-size="10.6" font-weight="bold" text-anchor="start" fill="#111" font-style="italic" textLength="41.0" lengthAdjust="spacingAndGlyphs">P=0.045</text>
<text x="261.30" y="492.00" font-size="11.5" font-weight="bold" text-anchor="middle" fill="#000" textLength="119" lengthAdjust="spacingAndGlyphs" transform="rotate(-90 261.30 492.00)">27-OHC in AD (ng/ml)</text>
<line x1="504.70" y1="432.00" x2="504.70" y2="552.10" stroke="#000" stroke-width="2" stroke-linecap="butt"/>
<line x1="500.50" y1="551.10" x2="672.00" y2="551.10" stroke="#000" stroke-width="2" stroke-linecap="butt"/>
<line x1="500.50" y1="433.00" x2="504.70" y2="433.00" stroke="#000" stroke-width="2" stroke-linecap="butt"/>
<text x="499.40" y="436.00" font-size="8.4" font-weight="normal" text-anchor="end" fill="#000" stroke="#000" stroke-width="0.35">300</text>
<line x1="500.50" y1="472.40" x2="504.70" y2="472.40" stroke="#000" stroke-width="2" stroke-linecap="butt"/>
<text x="499.40" y="475.40" font-size="8.4" font-weight="normal" text-anchor="end" fill="#000" stroke="#000" stroke-width="0.35">200</text>
<line x1="500.50" y1="511.80" x2="504.70" y2="511.80" stroke="#000" stroke-width="2" stroke-linecap="butt"/>
<text x="499.40" y="514.80" font-size="8.4" font-weight="normal" text-anchor="end" fill="#000" stroke="#000" stroke-width="0.35">100</text>
<line x1="500.50" y1="551.10" x2="504.70" y2="551.10" stroke="#000" stroke-width="2" stroke-linecap="butt"/>
<text x="499.40" y="554.10" font-size="8.4" font-weight="normal" text-anchor="end" fill="#000" stroke="#000" stroke-width="0.35">0</text>
<line x1="504.70" y1="551.10" x2="504.70" y2="555.60" stroke="#000" stroke-width="2" stroke-linecap="butt"/>
<text x="504.70" y="566.30" font-size="8.4" font-weight="bold" text-anchor="middle" fill="#000">0</text>
<line x1="560.10" y1="551.10" x2="560.10" y2="555.60" stroke="#000" stroke-width="2" stroke-linecap="butt"/>
<text x="560.10" y="566.30" font-size="8.4" font-weight="bold" text-anchor="middle" fill="#000">10</text>
<line x1="615.60" y1="551.10" x2="615.60" y2="555.60" stroke="#000" stroke-width="2" stroke-linecap="butt"/>
<text x="615.60" y="566.30" font-size="8.4" font-weight="bold" text-anchor="middle" fill="#000">20</text>
<line x1="671.00" y1="551.10" x2="671.00" y2="555.60" stroke="#000" stroke-width="2" stroke-linecap="butt"/>
<text x="671.00" y="566.30" font-size="8.4" font-weight="bold" text-anchor="middle" fill="#000">30</text>
<circle cx="526.60" cy="495.30" r="2.4" fill="#000"/>
<circle cx="554.40" cy="495.30" r="2.4" fill="#000"/>
<circle cx="532.10" cy="531.50" r="2.4" fill="#000"/>
<circle cx="537.60" cy="534.70" r="2.4" fill="#000"/>
<circle cx="554.40" cy="535.40" r="2.4" fill="#000"/>
<circle cx="543.00" cy="516.80" r="2.4" fill="#000"/>
<circle cx="559.90" cy="511.30" r="2.4" fill="#000"/>
<circle cx="565.40" cy="526.00" r="2.4" fill="#000"/>
<circle cx="576.70" cy="511.30" r="2.4" fill="#000"/>
<circle cx="582.40" cy="527.30" r="2.4" fill="#000"/>
<circle cx="598.90" cy="512.40" r="2.4" fill="#000"/>
<circle cx="598.90" cy="526.60" r="2.4" fill="#000"/>
<circle cx="604.30" cy="496.40" r="2.4" fill="#000"/>
<circle cx="615.70" cy="511.70" r="2.4" fill="#000"/>
<circle cx="638.10" cy="499.70" r="2.4" fill="#000"/>
<circle cx="643.50" cy="456.10" r="2.4" fill="#000"/>
<circle cx="643.50" cy="488.80" r="2.4" fill="#000"/>
<line x1="526.60" y1="526.60" x2="643.50" y2="491.60" stroke="#000" stroke-width="2" stroke-linecap="butt"/>
<text x="594.00" y="586.90" font-size="10.6" font-weight="bold" text-anchor="middle" fill="#000" textLength="28.8" lengthAdjust="spacingAndGlyphs">MMSE</text>
<text x="580.30" y="426.30" font-size="10.6" font-weight="bold" text-anchor="start" fill="#111" textLength="50.3" lengthAdjust="spacingAndGlyphs">Pearson's</text>
<text x="644.00" y="426.30" font-size="10.6" font-weight="bold" text-anchor="start" fill="#111" font-style="italic" textLength="37.7" lengthAdjust="spacingAndGlyphs">r = 0.57</text>
<text x="643.00" y="442.50" font-size="10.6" font-weight="bold" text-anchor="start" fill="#111" font-style="italic" textLength="41.3" lengthAdjust="spacingAndGlyphs">P=0.015</text>
<text x="476.50" y="485.70" font-size="11.7" font-weight="bold" text-anchor="middle" fill="#000" textLength="131" lengthAdjust="spacingAndGlyphs" transform="rotate(-90 476.50 485.70)">24S-OHC in AD (ng/ml)</text>
</svg>
</body></html>
